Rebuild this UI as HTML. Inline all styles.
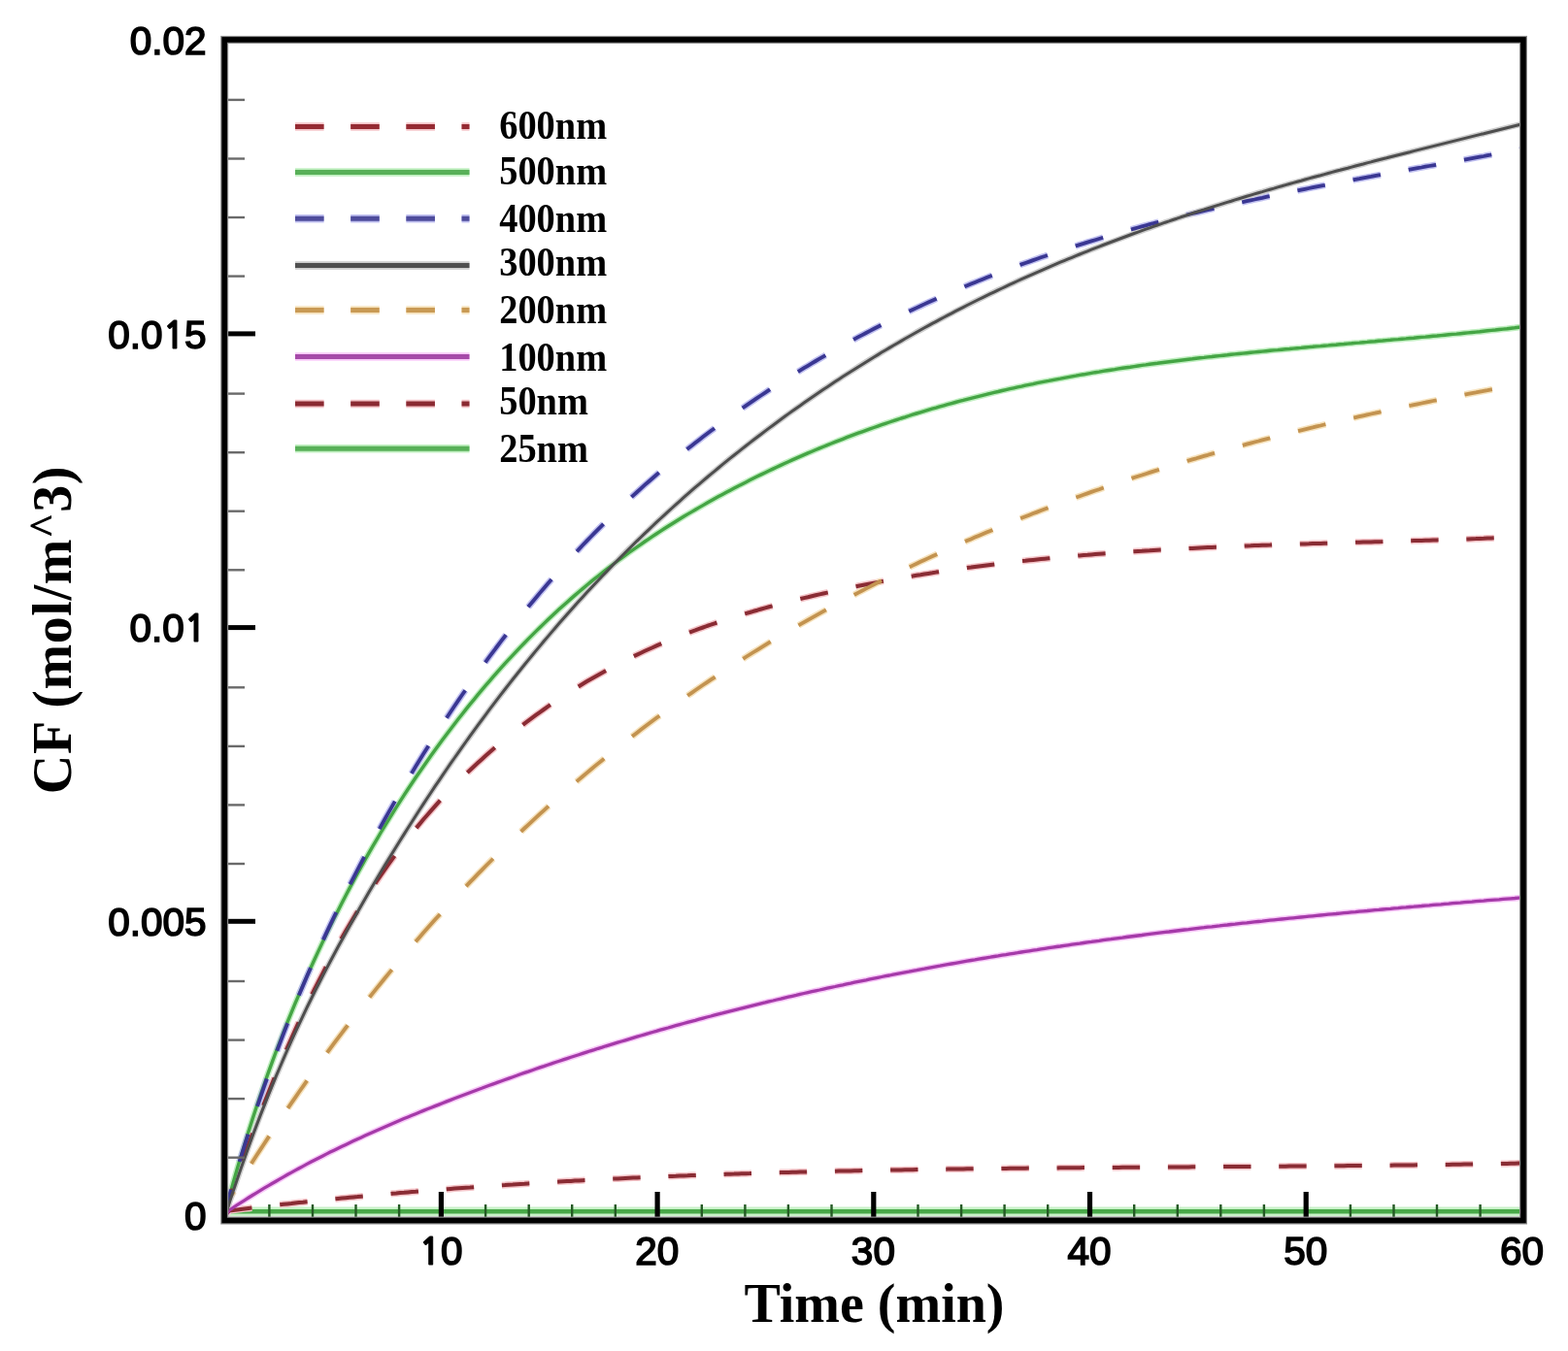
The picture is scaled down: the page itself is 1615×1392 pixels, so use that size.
<!DOCTYPE html>
<html><head><meta charset="utf-8"><title>CF vs Time</title><style>html,body{margin:0;padding:0;background:#fff;}svg{display:block;}</style></head><body>
<div id="w"><svg width="1615" height="1392" viewBox="0 0 1615 1392">
<rect width="1615" height="1392" fill="#fff"/>
<g fill="none" stroke-linejoin="round" stroke-linecap="butt">
<path d="M233,1248.3 L1566,1248.3" stroke="#c8f2c8" stroke-width="9.5"/>
<path d="M233,1248.3 L1566,1248.3" stroke="#48a848" stroke-width="4.4"/>
<path d="M232.1,1252.0 L236.1,1247.4 L240.1,1246.9 L244.1,1246.4 L248.1,1245.9 L252.1,1245.4 L256.1,1244.9 L260.1,1244.5 L264.1,1244.0 L268.1,1243.5 L272.1,1243.1 L276.1,1242.6 L280.1,1242.2 L284.1,1241.7 L288.1,1241.3 L292.1,1240.8 L296.1,1240.4 L300.1,1240.0 L304.1,1239.5 L308.1,1239.1 L312.1,1238.7 L316.1,1238.2 L320.1,1237.8 L324.1,1237.4 L328.1,1237.0 L332.1,1236.6 L336.1,1236.2 L340.1,1235.8 L344.1,1235.4 L348.1,1235.0 L352.1,1234.6 L356.1,1234.2 L360.1,1233.8 L364.1,1233.4 L368.1,1233.1 L372.1,1232.7 L376.1,1232.3 L380.1,1232.0 L384.1,1231.6 L388.1,1231.2 L392.1,1230.9 L396.1,1230.5 L400.1,1230.2 L404.1,1229.8 L408.1,1229.5 L412.1,1229.1 L416.1,1228.8 L420.1,1228.4 L424.1,1228.1 L428.1,1227.8 L432.1,1227.4 L436.1,1227.1 L440.1,1226.8 L444.1,1226.5 L448.1,1226.2 L452.1,1225.9 L456.1,1225.5 L460.1,1225.2 L464.1,1224.9 L468.1,1224.6 L472.1,1224.3 L476.1,1224.0 L480.1,1223.7 L484.1,1223.5 L488.1,1223.2 L492.1,1222.9 L496.1,1222.6 L500.1,1222.3 L504.1,1222.0 L508.1,1221.8 L512.1,1221.5 L516.1,1221.2 L520.1,1221.0 L524.1,1220.7 L528.1,1220.5 L532.1,1220.2 L536.1,1219.9 L540.1,1219.7 L544.1,1219.4 L548.1,1219.2 L552.1,1218.9 L556.1,1218.7 L560.1,1218.5 L564.1,1218.2 L568.1,1218.0 L572.1,1217.8 L576.1,1217.5 L580.1,1217.3 L584.1,1217.1 L588.1,1216.9 L592.1,1216.6 L596.1,1216.4 L600.1,1216.2 L604.1,1216.0 L608.1,1215.8 L612.1,1215.6 L616.1,1215.4 L620.1,1215.2 L624.1,1215.0 L628.1,1214.8 L632.1,1214.6 L636.1,1214.4 L640.1,1214.2 L644.1,1214.0 L648.1,1213.8 L652.1,1213.6 L656.1,1213.5 L660.1,1213.3 L664.1,1213.1 L668.1,1212.9 L672.1,1212.8 L676.1,1212.6 L680.1,1212.4 L684.1,1212.2 L688.1,1212.1 L692.1,1211.9 L696.1,1211.8 L700.1,1211.6 L704.1,1211.4 L708.1,1211.3 L712.1,1211.1 L716.1,1211.0 L720.1,1210.8 L724.1,1210.7 L728.1,1210.5 L732.1,1210.4 L736.1,1210.3 L740.1,1210.1 L744.1,1210.0 L748.1,1209.8 L752.1,1209.7 L756.1,1209.6 L760.1,1209.4 L764.1,1209.3 L768.1,1209.2 L772.1,1209.1 L776.1,1208.9 L780.1,1208.8 L784.1,1208.7 L788.1,1208.6 L792.1,1208.5 L796.1,1208.3 L800.1,1208.2 L804.1,1208.1 L808.1,1208.0 L812.1,1207.9 L816.1,1207.8 L820.1,1207.7 L824.1,1207.6 L828.1,1207.5 L832.1,1207.4 L836.1,1207.3 L840.1,1207.2 L844.1,1207.1 L848.1,1207.0 L852.1,1206.9 L856.1,1206.8 L860.1,1206.7 L864.1,1206.6 L868.1,1206.5 L872.1,1206.4 L876.1,1206.4 L880.1,1206.3 L884.1,1206.2 L888.1,1206.1 L892.1,1206.0 L896.1,1206.0 L900.1,1205.9 L904.1,1205.8 L908.1,1205.7 L912.1,1205.6 L916.1,1205.6 L920.1,1205.5 L924.1,1205.4 L928.1,1205.4 L932.1,1205.3 L936.1,1205.2 L940.1,1205.2 L944.1,1205.1 L948.1,1205.0 L952.1,1205.0 L956.1,1204.9 L960.1,1204.8 L964.1,1204.8 L968.1,1204.7 L972.1,1204.7 L976.1,1204.6 L980.1,1204.6 L984.1,1204.5 L988.1,1204.5 L992.1,1204.4 L996.1,1204.3 L1000.1,1204.3 L1004.1,1204.2 L1008.1,1204.2 L1012.1,1204.1 L1016.1,1204.1 L1020.1,1204.1 L1024.1,1204.0 L1028.1,1204.0 L1032.1,1203.9 L1036.1,1203.9 L1040.1,1203.8 L1044.1,1203.8 L1048.1,1203.7 L1052.1,1203.7 L1056.1,1203.7 L1060.1,1203.6 L1064.1,1203.6 L1068.1,1203.5 L1072.1,1203.5 L1076.1,1203.5 L1080.1,1203.4 L1084.1,1203.4 L1088.1,1203.4 L1092.1,1203.3 L1096.1,1203.3 L1100.1,1203.3 L1104.1,1203.2 L1108.1,1203.2 L1112.1,1203.2 L1116.1,1203.1 L1120.1,1203.1 L1124.1,1203.1 L1128.1,1203.0 L1132.1,1203.0 L1136.1,1203.0 L1140.1,1202.9 L1144.1,1202.9 L1148.1,1202.9 L1152.1,1202.9 L1156.1,1202.8 L1160.1,1202.8 L1164.1,1202.8 L1168.1,1202.7 L1172.1,1202.7 L1176.1,1202.7 L1180.1,1202.7 L1184.1,1202.6 L1188.1,1202.6 L1192.1,1202.6 L1196.1,1202.5 L1200.1,1202.5 L1204.1,1202.5 L1208.1,1202.5 L1212.1,1202.4 L1216.1,1202.4 L1220.1,1202.4 L1224.1,1202.4 L1228.1,1202.3 L1232.1,1202.3 L1236.1,1202.3 L1240.1,1202.3 L1244.1,1202.2 L1248.1,1202.2 L1252.1,1202.2 L1256.1,1202.2 L1260.1,1202.1 L1264.1,1202.1 L1268.1,1202.1 L1272.1,1202.0 L1276.1,1202.0 L1280.1,1202.0 L1284.1,1202.0 L1288.1,1201.9 L1292.1,1201.9 L1296.1,1201.9 L1300.1,1201.9 L1304.1,1201.8 L1308.1,1201.8 L1312.1,1201.8 L1316.1,1201.7 L1320.1,1201.7 L1324.1,1201.7 L1328.1,1201.6 L1332.1,1201.6 L1336.1,1201.6 L1340.1,1201.5 L1344.1,1201.5 L1348.1,1201.5 L1352.1,1201.4 L1356.1,1201.4 L1360.1,1201.4 L1364.1,1201.3 L1368.1,1201.3 L1372.1,1201.3 L1376.1,1201.2 L1380.1,1201.2 L1384.1,1201.2 L1388.1,1201.1 L1392.1,1201.1 L1396.1,1201.0 L1400.1,1201.0 L1404.1,1201.0 L1408.1,1200.9 L1412.1,1200.9 L1416.1,1200.8 L1420.1,1200.8 L1424.1,1200.8 L1428.1,1200.7 L1432.1,1200.7 L1436.1,1200.6 L1440.1,1200.6 L1444.1,1200.5 L1448.1,1200.5 L1452.1,1200.4 L1456.1,1200.4 L1460.1,1200.3 L1464.1,1200.3 L1468.1,1200.2 L1472.1,1200.2 L1476.1,1200.1 L1480.1,1200.0 L1484.1,1200.0 L1488.1,1199.9 L1492.1,1199.9 L1496.1,1199.8 L1500.1,1199.8 L1504.1,1199.7 L1508.1,1199.6 L1512.1,1199.6 L1516.1,1199.5 L1520.1,1199.4 L1524.1,1199.4 L1528.1,1199.3 L1532.1,1199.2 L1536.1,1199.2 L1540.1,1199.1 L1544.1,1199.0 L1548.1,1198.9 L1552.1,1198.9 L1556.1,1198.8 L1560.1,1198.7 L1564.1,1198.6 L1568.0,1198.5" stroke="#f4c4c8" stroke-width="7.0" stroke-dasharray="29.62 28.96 28.57 28.92 28.53 28.89 28.50 28.86 28.48 28.84 28.46 28.82 28.44 28.81 28.43 28.80 28.42 28.79 28.42 28.78 28.41 28.78 28.41 28.78 28.40 28.77 28.40 28.77 28.40 28.77 28.40 28.77 28.40 28.77 28.40 28.77 28.40 28.77 28.40 28.77 28.40 28.77 28.40 28.77 28.40 28.77 22.07 100.00"/>
<path d="M232.1,1252.0 L236.1,1247.0 L240.1,1244.3 L244.1,1241.7 L248.1,1239.1 L252.1,1236.6 L256.1,1234.0 L260.1,1231.5 L264.1,1229.1 L268.1,1226.6 L272.1,1224.2 L276.1,1221.8 L280.1,1219.5 L284.1,1217.2 L288.1,1214.9 L292.1,1212.6 L296.1,1210.3 L300.1,1208.1 L304.1,1205.9 L308.1,1203.7 L312.1,1201.6 L316.1,1199.4 L320.1,1197.3 L324.1,1195.3 L328.1,1193.2 L332.1,1191.2 L336.1,1189.1 L340.1,1187.1 L344.1,1185.2 L348.1,1183.2 L352.1,1181.3 L356.1,1179.4 L360.1,1177.5 L364.1,1175.6 L368.1,1173.7 L372.1,1171.9 L376.1,1170.0 L380.1,1168.2 L384.1,1166.4 L388.1,1164.7 L392.1,1162.9 L396.1,1161.2 L400.1,1159.4 L404.1,1157.7 L408.1,1156.0 L412.1,1154.3 L416.1,1152.6 L420.1,1151.0 L424.1,1149.3 L428.1,1147.7 L432.1,1146.0 L436.1,1144.4 L440.1,1142.8 L444.1,1141.2 L448.1,1139.6 L452.1,1138.1 L456.1,1136.5 L460.1,1134.9 L464.1,1133.4 L468.1,1131.8 L472.1,1130.3 L476.1,1128.8 L480.1,1127.3 L484.1,1125.7 L488.1,1124.2 L492.1,1122.7 L496.1,1121.3 L500.1,1119.8 L504.1,1118.3 L508.1,1116.9 L512.1,1115.4 L516.1,1114.0 L520.1,1112.5 L524.1,1111.1 L528.1,1109.7 L532.1,1108.3 L536.1,1106.8 L540.1,1105.4 L544.1,1104.1 L548.1,1102.7 L552.1,1101.3 L556.1,1099.9 L560.1,1098.6 L564.1,1097.2 L568.1,1095.9 L572.1,1094.5 L576.1,1093.2 L580.1,1091.9 L584.1,1090.6 L588.1,1089.3 L592.1,1088.0 L596.1,1086.7 L600.1,1085.4 L604.1,1084.1 L608.1,1082.8 L612.1,1081.6 L616.1,1080.3 L620.1,1079.1 L624.1,1077.8 L628.1,1076.6 L632.1,1075.4 L636.1,1074.2 L640.1,1073.0 L644.1,1071.8 L648.1,1070.6 L652.1,1069.4 L656.1,1068.2 L660.1,1067.0 L664.1,1065.8 L668.1,1064.7 L672.1,1063.5 L676.1,1062.4 L680.1,1061.2 L684.1,1060.1 L688.1,1059.0 L692.1,1057.8 L696.1,1056.7 L700.1,1055.6 L704.1,1054.5 L708.1,1053.4 L712.1,1052.3 L716.1,1051.3 L720.1,1050.2 L724.1,1049.1 L728.1,1048.0 L732.1,1047.0 L736.1,1045.9 L740.1,1044.9 L744.1,1043.9 L748.1,1042.8 L752.1,1041.8 L756.1,1040.8 L760.1,1039.8 L764.1,1038.8 L768.1,1037.8 L772.1,1036.8 L776.1,1035.8 L780.1,1034.8 L784.1,1033.8 L788.1,1032.9 L792.1,1031.9 L796.1,1031.0 L800.1,1030.0 L804.1,1029.1 L808.1,1028.1 L812.1,1027.2 L816.1,1026.3 L820.1,1025.4 L824.1,1024.4 L828.1,1023.5 L832.1,1022.6 L836.1,1021.7 L840.1,1020.8 L844.1,1020.0 L848.1,1019.1 L852.1,1018.2 L856.1,1017.3 L860.1,1016.5 L864.1,1015.6 L868.1,1014.8 L872.1,1013.9 L876.1,1013.1 L880.1,1012.2 L884.1,1011.4 L888.1,1010.6 L892.1,1009.8 L896.1,1008.9 L900.1,1008.1 L904.1,1007.3 L908.1,1006.5 L912.1,1005.7 L916.1,1005.0 L920.1,1004.2 L924.1,1003.4 L928.1,1002.6 L932.1,1001.8 L936.1,1001.1 L940.1,1000.3 L944.1,999.6 L948.1,998.8 L952.1,998.1 L956.1,997.3 L960.1,996.6 L964.1,995.9 L968.1,995.2 L972.1,994.4 L976.1,993.7 L980.1,993.0 L984.1,992.3 L988.1,991.6 L992.1,990.9 L996.1,990.2 L1000.1,989.5 L1004.1,988.9 L1008.1,988.2 L1012.1,987.5 L1016.1,986.8 L1020.1,986.2 L1024.1,985.5 L1028.1,984.9 L1032.1,984.2 L1036.1,983.6 L1040.1,982.9 L1044.1,982.3 L1048.1,981.7 L1052.1,981.0 L1056.1,980.4 L1060.1,979.8 L1064.1,979.2 L1068.1,978.6 L1072.1,977.9 L1076.1,977.3 L1080.1,976.7 L1084.1,976.1 L1088.1,975.5 L1092.1,975.0 L1096.1,974.4 L1100.1,973.8 L1104.1,973.2 L1108.1,972.6 L1112.1,972.1 L1116.1,971.5 L1120.1,970.9 L1124.1,970.4 L1128.1,969.8 L1132.1,969.3 L1136.1,968.7 L1140.1,968.2 L1144.1,967.7 L1148.1,967.1 L1152.1,966.6 L1156.1,966.1 L1160.1,965.5 L1164.1,965.0 L1168.1,964.5 L1172.1,964.0 L1176.1,963.5 L1180.1,962.9 L1184.1,962.4 L1188.1,961.9 L1192.1,961.4 L1196.1,960.9 L1200.1,960.4 L1204.1,960.0 L1208.1,959.5 L1212.1,959.0 L1216.1,958.5 L1220.1,958.0 L1224.1,957.6 L1228.1,957.1 L1232.1,956.6 L1236.1,956.1 L1240.1,955.7 L1244.1,955.2 L1248.1,954.8 L1252.1,954.3 L1256.1,953.9 L1260.1,953.4 L1264.1,953.0 L1268.1,952.5 L1272.1,952.1 L1276.1,951.6 L1280.1,951.2 L1284.1,950.8 L1288.1,950.3 L1292.1,949.9 L1296.1,949.5 L1300.1,949.1 L1304.1,948.6 L1308.1,948.2 L1312.1,947.8 L1316.1,947.4 L1320.1,947.0 L1324.1,946.6 L1328.1,946.2 L1332.1,945.8 L1336.1,945.4 L1340.1,945.0 L1344.1,944.6 L1348.1,944.2 L1352.1,943.8 L1356.1,943.4 L1360.1,943.0 L1364.1,942.6 L1368.1,942.2 L1372.1,941.8 L1376.1,941.5 L1380.1,941.1 L1384.1,940.7 L1388.1,940.3 L1392.1,939.9 L1396.1,939.6 L1400.1,939.2 L1404.1,938.8 L1408.1,938.5 L1412.1,938.1 L1416.1,937.7 L1420.1,937.4 L1424.1,937.0 L1428.1,936.6 L1432.1,936.3 L1436.1,935.9 L1440.1,935.6 L1444.1,935.2 L1448.1,934.9 L1452.1,934.5 L1456.1,934.2 L1460.1,933.8 L1464.1,933.5 L1468.1,933.1 L1472.1,932.8 L1476.1,932.4 L1480.1,932.1 L1484.1,931.8 L1488.1,931.4 L1492.1,931.1 L1496.1,930.7 L1500.1,930.4 L1504.1,930.1 L1508.1,929.7 L1512.1,929.4 L1516.1,929.1 L1520.1,928.7 L1524.1,928.4 L1528.1,928.1 L1532.1,927.7 L1536.1,927.4 L1540.1,927.1 L1544.1,926.8 L1548.1,926.4 L1552.1,926.1 L1556.1,925.8 L1560.1,925.5 L1564.1,925.1 L1568.0,924.8" stroke="#f8c8f8" stroke-width="6.3"/>
<path d="M232.1,1252.0 L236.1,1233.2 L240.1,1218.9 L244.1,1205.0 L248.1,1191.4 L252.1,1178.2 L256.1,1165.4 L260.1,1152.9 L264.1,1140.7 L268.1,1128.8 L272.1,1117.2 L276.1,1105.9 L280.1,1094.8 L284.1,1084.0 L288.1,1073.5 L292.1,1063.2 L296.1,1053.2 L300.1,1043.3 L304.1,1033.7 L308.1,1024.3 L312.1,1015.0 L316.1,1005.9 L320.1,997.0 L324.1,988.2 L328.1,979.6 L332.1,971.1 L336.1,962.7 L340.1,954.5 L344.1,946.3 L348.1,938.4 L352.1,930.5 L356.1,922.7 L360.1,915.1 L364.1,907.6 L368.1,900.2 L372.1,892.9 L376.1,885.7 L380.1,878.6 L384.1,871.6 L388.1,864.8 L392.1,858.0 L396.1,851.3 L400.1,844.8 L404.1,838.3 L408.1,831.9 L412.1,825.6 L416.1,819.4 L420.1,813.3 L424.1,807.3 L428.1,801.3 L432.1,795.5 L436.1,789.7 L440.1,784.0 L444.1,778.3 L448.1,772.7 L452.1,767.2 L456.1,761.8 L460.1,756.4 L464.1,751.2 L468.1,745.9 L472.1,740.8 L476.1,735.7 L480.1,730.6 L484.1,725.7 L488.1,720.8 L492.1,715.9 L496.1,711.1 L500.1,706.4 L504.1,701.8 L508.1,697.2 L512.1,692.6 L516.1,688.2 L520.1,683.7 L524.1,679.4 L528.1,675.1 L532.1,670.8 L536.1,666.6 L540.1,662.5 L544.1,658.4 L548.1,654.4 L552.1,650.4 L556.1,646.5 L560.1,642.6 L564.1,638.8 L568.1,635.0 L572.1,631.3 L576.1,627.6 L580.1,624.0 L584.1,620.4 L588.1,616.9 L592.1,613.4 L596.1,610.0 L600.1,606.6 L604.1,603.2 L608.1,599.9 L612.1,596.7 L616.1,593.5 L620.1,590.3 L624.1,587.2 L628.1,584.1 L632.1,581.0 L636.1,578.0 L640.1,575.1 L644.1,572.1 L648.1,569.2 L652.1,566.4 L656.1,563.6 L660.1,560.8 L664.1,558.0 L668.1,555.3 L672.1,552.6 L676.1,550.0 L680.1,547.4 L684.1,544.8 L688.1,542.2 L692.1,539.7 L696.1,537.2 L700.1,534.8 L704.1,532.3 L708.1,529.9 L712.1,527.6 L716.1,525.2 L720.1,522.9 L724.1,520.6 L728.1,518.3 L732.1,516.1 L736.1,513.8 L740.1,511.6 L744.1,509.5 L748.1,507.3 L752.1,505.2 L756.1,503.1 L760.1,501.0 L764.1,498.9 L768.1,496.9 L772.1,494.8 L776.1,492.8 L780.1,490.8 L784.1,488.9 L788.1,486.9 L792.1,485.0 L796.1,483.1 L800.1,481.2 L804.1,479.4 L808.1,477.5 L812.1,475.7 L816.1,473.9 L820.1,472.1 L824.1,470.4 L828.1,468.6 L832.1,466.9 L836.1,465.2 L840.1,463.5 L844.1,461.9 L848.1,460.2 L852.1,458.6 L856.1,457.0 L860.1,455.4 L864.1,453.8 L868.1,452.3 L872.1,450.7 L876.1,449.2 L880.1,447.7 L884.1,446.2 L888.1,444.8 L892.1,443.3 L896.1,441.9 L900.1,440.5 L904.1,439.1 L908.1,437.7 L912.1,436.3 L916.1,435.0 L920.1,433.7 L924.1,432.3 L928.1,431.0 L932.1,429.8 L936.1,428.5 L940.1,427.2 L944.1,426.0 L948.1,424.8 L952.1,423.6 L956.1,422.4 L960.1,421.2 L964.1,420.1 L968.1,418.9 L972.1,417.8 L976.1,416.7 L980.1,415.6 L984.1,414.5 L988.1,413.4 L992.1,412.4 L996.1,411.3 L1000.1,410.3 L1004.1,409.3 L1008.1,408.3 L1012.1,407.3 L1016.1,406.3 L1020.1,405.3 L1024.1,404.4 L1028.1,403.5 L1032.1,402.5 L1036.1,401.6 L1040.1,400.7 L1044.1,399.8 L1048.1,398.9 L1052.1,398.1 L1056.1,397.2 L1060.1,396.4 L1064.1,395.6 L1068.1,394.7 L1072.1,393.9 L1076.1,393.1 L1080.1,392.4 L1084.1,391.6 L1088.1,390.8 L1092.1,390.1 L1096.1,389.3 L1100.1,388.6 L1104.1,387.9 L1108.1,387.2 L1112.1,386.4 L1116.1,385.8 L1120.1,385.1 L1124.1,384.4 L1128.1,383.7 L1132.1,383.1 L1136.1,382.4 L1140.1,381.8 L1144.1,381.2 L1148.1,380.6 L1152.1,379.9 L1156.1,379.3 L1160.1,378.7 L1164.1,378.2 L1168.1,377.6 L1172.1,377.0 L1176.1,376.4 L1180.1,375.9 L1184.1,375.3 L1188.1,374.8 L1192.1,374.3 L1196.1,373.7 L1200.1,373.2 L1204.1,372.7 L1208.1,372.2 L1212.1,371.7 L1216.1,371.2 L1220.1,370.7 L1224.1,370.2 L1228.1,369.8 L1232.1,369.3 L1236.1,368.8 L1240.1,368.4 L1244.1,367.9 L1248.1,367.5 L1252.1,367.0 L1256.1,366.6 L1260.1,366.2 L1264.1,365.8 L1268.1,365.3 L1272.1,364.9 L1276.1,364.5 L1280.1,364.1 L1284.1,363.7 L1288.1,363.3 L1292.1,362.9 L1296.1,362.5 L1300.1,362.1 L1304.1,361.7 L1308.1,361.3 L1312.1,360.9 L1316.1,360.6 L1320.1,360.2 L1324.1,359.8 L1328.1,359.5 L1332.1,359.1 L1336.1,358.7 L1340.1,358.4 L1344.1,358.0 L1348.1,357.6 L1352.1,357.3 L1356.1,356.9 L1360.1,356.6 L1364.1,356.2 L1368.1,355.9 L1372.1,355.5 L1376.1,355.2 L1380.1,354.8 L1384.1,354.5 L1388.1,354.1 L1392.1,353.8 L1396.1,353.4 L1400.1,353.1 L1404.1,352.7 L1408.1,352.4 L1412.1,352.0 L1416.1,351.7 L1420.1,351.3 L1424.1,351.0 L1428.1,350.6 L1432.1,350.3 L1436.1,349.9 L1440.1,349.6 L1444.1,349.2 L1448.1,348.9 L1452.1,348.5 L1456.1,348.2 L1460.1,347.8 L1464.1,347.4 L1468.1,347.1 L1472.1,346.7 L1476.1,346.3 L1480.1,346.0 L1484.1,345.6 L1488.1,345.2 L1492.1,344.8 L1496.1,344.4 L1500.1,344.1 L1504.1,343.7 L1508.1,343.3 L1512.1,342.9 L1516.1,342.5 L1520.1,342.1 L1524.1,341.7 L1528.1,341.2 L1532.1,340.8 L1536.1,340.4 L1540.1,340.0 L1544.1,339.5 L1548.1,339.1 L1552.1,338.7 L1556.1,338.2 L1560.1,337.8 L1564.1,337.3 L1568.0,336.9" stroke="#c0efc0" stroke-width="6.4"/>
<path d="M232.1,1252.0 L236.1,1235.2 L240.1,1223.5 L244.1,1212.0 L248.1,1200.7 L252.1,1189.6 L256.1,1178.6 L260.1,1167.9 L264.1,1157.3 L268.1,1146.9 L272.1,1136.7 L276.1,1126.7 L280.1,1116.8 L284.1,1107.1 L288.1,1097.6 L292.1,1088.2 L296.1,1079.0 L300.1,1070.0 L304.1,1061.1 L308.1,1052.4 L312.1,1043.8 L316.1,1035.4 L320.1,1027.1 L324.1,1019.0 L328.1,1011.1 L332.1,1003.3 L336.1,995.6 L340.1,988.1 L344.1,980.7 L348.1,973.4 L352.1,966.3 L356.1,959.3 L360.1,952.5 L364.1,945.7 L368.1,939.1 L372.1,932.7 L376.1,926.3 L380.1,920.1 L384.1,914.0 L388.1,908.0 L392.1,902.1 L396.1,896.3 L400.1,890.7 L404.1,885.1 L408.1,879.7 L412.1,874.3 L416.1,869.1 L420.1,863.9 L424.1,858.9 L428.1,853.9 L432.1,849.1 L436.1,844.3 L440.1,839.7 L444.1,835.1 L448.1,830.6 L452.1,826.1 L456.1,821.8 L460.1,817.5 L464.1,813.3 L468.1,809.2 L472.1,805.2 L476.1,801.2 L480.1,797.3 L484.1,793.5 L488.1,789.7 L492.1,786.0 L496.1,782.4 L500.1,778.8 L504.1,775.2 L508.1,771.8 L512.1,768.3 L516.1,764.9 L520.1,761.6 L524.1,758.3 L528.1,755.1 L532.1,751.9 L536.1,748.8 L540.1,745.7 L544.1,742.7 L548.1,739.7 L552.1,736.7 L556.1,733.8 L560.1,731.0 L564.1,728.1 L568.1,725.4 L572.1,722.6 L576.1,720.0 L580.1,717.3 L584.1,714.7 L588.1,712.2 L592.1,709.7 L596.1,707.2 L600.1,704.7 L604.1,702.3 L608.1,700.0 L612.1,697.7 L616.1,695.4 L620.1,693.2 L624.1,691.0 L628.1,688.8 L632.1,686.7 L636.1,684.6 L640.1,682.5 L644.1,680.5 L648.1,678.5 L652.1,676.5 L656.1,674.6 L660.1,672.7 L664.1,670.8 L668.1,669.0 L672.1,667.2 L676.1,665.4 L680.1,663.7 L684.1,662.0 L688.1,660.3 L692.1,658.7 L696.1,657.1 L700.1,655.5 L704.1,653.9 L708.1,652.4 L712.1,650.8 L716.1,649.4 L720.1,647.9 L724.1,646.5 L728.1,645.0 L732.1,643.7 L736.1,642.3 L740.1,640.9 L744.1,639.6 L748.1,638.3 L752.1,637.1 L756.1,635.8 L760.1,634.6 L764.1,633.3 L768.1,632.1 L772.1,631.0 L776.1,629.8 L780.1,628.7 L784.1,627.5 L788.1,626.4 L792.1,625.3 L796.1,624.3 L800.1,623.2 L804.1,622.1 L808.1,621.1 L812.1,620.1 L816.1,619.1 L820.1,618.1 L824.1,617.1 L828.1,616.1 L832.1,615.2 L836.1,614.2 L840.1,613.3 L844.1,612.4 L848.1,611.5 L852.1,610.6 L856.1,609.7 L860.1,608.8 L864.1,607.9 L868.1,607.1 L872.1,606.2 L876.1,605.4 L880.1,604.6 L884.1,603.8 L888.1,603.0 L892.1,602.2 L896.1,601.4 L900.1,600.6 L904.1,599.9 L908.1,599.1 L912.1,598.4 L916.1,597.7 L920.1,596.9 L924.1,596.2 L928.1,595.5 L932.1,594.8 L936.1,594.1 L940.1,593.5 L944.1,592.8 L948.1,592.2 L952.1,591.5 L956.1,590.9 L960.1,590.3 L964.1,589.6 L968.1,589.0 L972.1,588.4 L976.1,587.8 L980.1,587.3 L984.1,586.7 L988.1,586.1 L992.1,585.6 L996.1,585.0 L1000.1,584.5 L1004.1,583.9 L1008.1,583.4 L1012.1,582.9 L1016.1,582.4 L1020.1,581.9 L1024.1,581.4 L1028.1,580.9 L1032.1,580.5 L1036.1,580.0 L1040.1,579.5 L1044.1,579.1 L1048.1,578.6 L1052.1,578.2 L1056.1,577.8 L1060.1,577.3 L1064.1,576.9 L1068.1,576.5 L1072.1,576.1 L1076.1,575.7 L1080.1,575.3 L1084.1,574.9 L1088.1,574.6 L1092.1,574.2 L1096.1,573.8 L1100.1,573.5 L1104.1,573.1 L1108.1,572.8 L1112.1,572.4 L1116.1,572.1 L1120.1,571.8 L1124.1,571.4 L1128.1,571.1 L1132.1,570.8 L1136.1,570.5 L1140.1,570.2 L1144.1,569.9 L1148.1,569.6 L1152.1,569.4 L1156.1,569.1 L1160.1,568.8 L1164.1,568.5 L1168.1,568.3 L1172.1,568.0 L1176.1,567.8 L1180.1,567.5 L1184.1,567.3 L1188.1,567.0 L1192.1,566.8 L1196.1,566.6 L1200.1,566.3 L1204.1,566.1 L1208.1,565.9 L1212.1,565.7 L1216.1,565.5 L1220.1,565.3 L1224.1,565.1 L1228.1,564.9 L1232.1,564.7 L1236.1,564.5 L1240.1,564.3 L1244.1,564.1 L1248.1,563.9 L1252.1,563.7 L1256.1,563.6 L1260.1,563.4 L1264.1,563.2 L1268.1,563.1 L1272.1,562.9 L1276.1,562.7 L1280.1,562.6 L1284.1,562.4 L1288.1,562.3 L1292.1,562.1 L1296.1,562.0 L1300.1,561.8 L1304.1,561.7 L1308.1,561.6 L1312.1,561.4 L1316.1,561.3 L1320.1,561.2 L1324.1,561.0 L1328.1,560.9 L1332.1,560.8 L1336.1,560.6 L1340.1,560.5 L1344.1,560.4 L1348.1,560.3 L1352.1,560.1 L1356.1,560.0 L1360.1,559.9 L1364.1,559.8 L1368.1,559.7 L1372.1,559.5 L1376.1,559.4 L1380.1,559.3 L1384.1,559.2 L1388.1,559.1 L1392.1,559.0 L1396.1,558.8 L1400.1,558.7 L1404.1,558.6 L1408.1,558.5 L1412.1,558.4 L1416.1,558.3 L1420.1,558.2 L1424.1,558.1 L1428.1,557.9 L1432.1,557.8 L1436.1,557.7 L1440.1,557.6 L1444.1,557.5 L1448.1,557.4 L1452.1,557.3 L1456.1,557.1 L1460.1,557.0 L1464.1,556.9 L1468.1,556.8 L1472.1,556.7 L1476.1,556.5 L1480.1,556.4 L1484.1,556.3 L1488.1,556.2 L1492.1,556.0 L1496.1,555.9 L1500.1,555.8 L1504.1,555.6 L1508.1,555.5 L1512.1,555.4 L1516.1,555.2 L1520.1,555.1 L1524.1,554.9 L1528.1,554.8 L1532.1,554.6 L1536.1,554.5 L1540.1,554.3 L1544.1,554.2 L1548.1,554.0 L1552.1,553.9 L1556.1,553.7 L1560.1,553.5 L1564.1,553.4 L1568.0,553.2" stroke="#f4c4c8" stroke-width="7.0" stroke-dasharray="28.12 30.50 30.25 30.82 30.62 31.26 31.13 31.87 31.86 32.77 32.95 34.16 34.69 36.41 37.59 39.98 38.37 37.11 35.17 34.35 32.84 32.36 31.21 31.02 30.15 30.18 29.51 29.69 29.16 29.42 28.93 29.21 28.76 29.07 28.63 28.96 28.55 28.89 28.49 28.84 28.45 28.81 28.43 28.79 28.42 28.79 28.41 28.78 28.41 28.78 28.41 28.79 28.42 28.79 0.45 100.00"/>
<path d="M232.1,1252.0 L236.1,1235.5 L240.1,1229.0 L244.1,1222.5 L248.1,1216.1 L252.1,1209.7 L256.1,1203.4 L260.1,1197.1 L264.1,1190.8 L268.1,1184.6 L272.1,1178.5 L276.1,1172.4 L280.1,1166.3 L284.1,1160.3 L288.1,1154.3 L292.1,1148.3 L296.1,1142.4 L300.1,1136.6 L304.1,1130.8 L308.1,1125.0 L312.1,1119.3 L316.1,1113.6 L320.1,1108.0 L324.1,1102.4 L328.1,1096.8 L332.1,1091.3 L336.1,1085.8 L340.1,1080.3 L344.1,1074.9 L348.1,1069.6 L352.1,1064.3 L356.1,1059.0 L360.1,1053.7 L364.1,1048.5 L368.1,1043.4 L372.1,1038.2 L376.1,1033.1 L380.1,1028.1 L384.1,1023.1 L388.1,1018.1 L392.1,1013.2 L396.1,1008.2 L400.1,1003.4 L404.1,998.5 L408.1,993.7 L412.1,989.0 L416.1,984.2 L420.1,979.6 L424.1,974.9 L428.1,970.3 L432.1,965.7 L436.1,961.1 L440.1,956.6 L444.1,952.1 L448.1,947.6 L452.1,943.2 L456.1,938.8 L460.1,934.5 L464.1,930.1 L468.1,925.8 L472.1,921.6 L476.1,917.3 L480.1,913.1 L484.1,908.9 L488.1,904.8 L492.1,900.7 L496.1,896.6 L500.1,892.5 L504.1,888.5 L508.1,884.5 L512.1,880.6 L516.1,876.6 L520.1,872.7 L524.1,868.8 L528.1,865.0 L532.1,861.1 L536.1,857.3 L540.1,853.5 L544.1,849.8 L548.1,846.1 L552.1,842.4 L556.1,838.7 L560.1,835.1 L564.1,831.4 L568.1,827.8 L572.1,824.3 L576.1,820.7 L580.1,817.2 L584.1,813.7 L588.1,810.2 L592.1,806.8 L596.1,803.4 L600.1,800.0 L604.1,796.6 L608.1,793.3 L612.1,789.9 L616.1,786.6 L620.1,783.4 L624.1,780.1 L628.1,776.9 L632.1,773.7 L636.1,770.5 L640.1,767.3 L644.1,764.2 L648.1,761.1 L652.1,758.0 L656.1,754.9 L660.1,751.8 L664.1,748.8 L668.1,745.8 L672.1,742.8 L676.1,739.8 L680.1,736.9 L684.1,734.0 L688.1,731.1 L692.1,728.2 L696.1,725.3 L700.1,722.5 L704.1,719.6 L708.1,716.8 L712.1,714.1 L716.1,711.3 L720.1,708.5 L724.1,705.8 L728.1,703.1 L732.1,700.4 L736.1,697.8 L740.1,695.1 L744.1,692.5 L748.1,689.9 L752.1,687.3 L756.1,684.7 L760.1,682.1 L764.1,679.6 L768.1,677.0 L772.1,674.5 L776.1,672.0 L780.1,669.6 L784.1,667.1 L788.1,664.7 L792.1,662.2 L796.1,659.8 L800.1,657.4 L804.1,655.1 L808.1,652.7 L812.1,650.3 L816.1,648.0 L820.1,645.7 L824.1,643.4 L828.1,641.1 L832.1,638.8 L836.1,636.6 L840.1,634.3 L844.1,632.1 L848.1,629.9 L852.1,627.7 L856.1,625.5 L860.1,623.3 L864.1,621.2 L868.1,619.0 L872.1,616.9 L876.1,614.8 L880.1,612.7 L884.1,610.6 L888.1,608.5 L892.1,606.4 L896.1,604.4 L900.1,602.3 L904.1,600.3 L908.1,598.3 L912.1,596.3 L916.1,594.3 L920.1,592.3 L924.1,590.4 L928.1,588.4 L932.1,586.5 L936.1,584.5 L940.1,582.6 L944.1,580.7 L948.1,578.8 L952.1,577.0 L956.1,575.1 L960.1,573.2 L964.1,571.4 L968.1,569.6 L972.1,567.8 L976.1,566.0 L980.1,564.2 L984.1,562.4 L988.1,560.6 L992.1,558.9 L996.1,557.1 L1000.1,555.4 L1004.1,553.6 L1008.1,551.9 L1012.1,550.2 L1016.1,548.5 L1020.1,546.9 L1024.1,545.2 L1028.1,543.5 L1032.1,541.9 L1036.1,540.3 L1040.1,538.6 L1044.1,537.0 L1048.1,535.4 L1052.1,533.8 L1056.1,532.3 L1060.1,530.7 L1064.1,529.1 L1068.1,527.6 L1072.1,526.0 L1076.1,524.5 L1080.1,523.0 L1084.1,521.5 L1088.1,520.0 L1092.1,518.5 L1096.1,517.0 L1100.1,515.5 L1104.1,514.1 L1108.1,512.6 L1112.1,511.2 L1116.1,509.8 L1120.1,508.4 L1124.1,506.9 L1128.1,505.5 L1132.1,504.2 L1136.1,502.8 L1140.1,501.4 L1144.1,500.0 L1148.1,498.7 L1152.1,497.3 L1156.1,496.0 L1160.1,494.7 L1164.1,493.4 L1168.1,492.0 L1172.1,490.7 L1176.1,489.5 L1180.1,488.2 L1184.1,486.9 L1188.1,485.6 L1192.1,484.4 L1196.1,483.1 L1200.1,481.9 L1204.1,480.7 L1208.1,479.4 L1212.1,478.2 L1216.1,477.0 L1220.1,475.8 L1224.1,474.6 L1228.1,473.4 L1232.1,472.3 L1236.1,471.1 L1240.1,469.9 L1244.1,468.8 L1248.1,467.6 L1252.1,466.5 L1256.1,465.4 L1260.1,464.3 L1264.1,463.1 L1268.1,462.0 L1272.1,460.9 L1276.1,459.8 L1280.1,458.8 L1284.1,457.7 L1288.1,456.6 L1292.1,455.5 L1296.1,454.5 L1300.1,453.4 L1304.1,452.4 L1308.1,451.4 L1312.1,450.3 L1316.1,449.3 L1320.1,448.3 L1324.1,447.3 L1328.1,446.3 L1332.1,445.3 L1336.1,444.3 L1340.1,443.3 L1344.1,442.3 L1348.1,441.3 L1352.1,440.4 L1356.1,439.4 L1360.1,438.5 L1364.1,437.5 L1368.1,436.6 L1372.1,435.6 L1376.1,434.7 L1380.1,433.8 L1384.1,432.8 L1388.1,431.9 L1392.1,431.0 L1396.1,430.1 L1400.1,429.2 L1404.1,428.3 L1408.1,427.4 L1412.1,426.5 L1416.1,425.7 L1420.1,424.8 L1424.1,423.9 L1428.1,423.1 L1432.1,422.2 L1436.1,421.3 L1440.1,420.5 L1444.1,419.6 L1448.1,418.8 L1452.1,418.0 L1456.1,417.1 L1460.1,416.3 L1464.1,415.5 L1468.1,414.7 L1472.1,413.8 L1476.1,413.0 L1480.1,412.2 L1484.1,411.4 L1488.1,410.6 L1492.1,409.8 L1496.1,409.0 L1500.1,408.3 L1504.1,407.5 L1508.1,406.7 L1512.1,405.9 L1516.1,405.1 L1520.1,404.4 L1524.1,403.6 L1528.1,402.8 L1532.1,402.1 L1536.1,401.3 L1540.1,400.6 L1544.1,399.8 L1548.1,399.1 L1552.1,398.3 L1556.1,397.6 L1560.1,396.8 L1564.1,396.1 L1568.0,395.4" stroke="#f6e2bc" stroke-width="6.8" stroke-dasharray="26.04 33.95 33.83 34.62 34.56 35.45 35.47 36.46 36.59 37.73 37.99 39.32 39.74 40.11 38.66 38.28 36.99 36.72 35.56 35.39 34.37 34.29 33.38 33.39 32.58 32.66 31.93 32.05 31.36 31.52 30.88 31.06 30.46 30.67 30.11 30.35 29.82 30.08 29.57 29.85 29.38 29.67 29.22 29.53 29.09 29.42 28.99 29.33 28.92 29.26 2.34 100.00"/>
<path d="M232.1,1252.0 L236.1,1232.4 L240.1,1218.8 L244.1,1205.4 L248.1,1192.4 L252.1,1179.6 L256.1,1167.1 L260.1,1154.8 L264.1,1142.7 L268.1,1130.9 L272.1,1119.4 L276.1,1108.1 L280.1,1097.0 L284.1,1086.1 L288.1,1075.4 L292.1,1064.9 L296.1,1054.6 L300.1,1044.6 L304.1,1034.7 L308.1,1024.9 L312.1,1015.4 L316.1,1006.0 L320.1,996.8 L324.1,987.7 L328.1,978.8 L332.1,970.1 L336.1,961.4 L340.1,952.9 L344.1,944.5 L348.1,936.3 L352.1,928.1 L356.1,920.1 L360.1,912.1 L364.1,904.3 L368.1,896.5 L372.1,888.8 L376.1,881.2 L380.1,873.7 L384.1,866.3 L388.1,858.9 L392.1,851.7 L396.1,844.5 L400.1,837.4 L404.1,830.4 L408.1,823.4 L412.1,816.5 L416.1,809.7 L420.1,803.0 L424.1,796.4 L428.1,789.8 L432.1,783.2 L436.1,776.8 L440.1,770.4 L444.1,764.1 L448.1,757.9 L452.1,751.7 L456.1,745.5 L460.1,739.5 L464.1,733.5 L468.1,727.5 L472.1,721.7 L476.1,715.8 L480.1,710.1 L484.1,704.4 L488.1,698.7 L492.1,693.1 L496.1,687.6 L500.1,682.1 L504.1,676.7 L508.1,671.3 L512.1,666.0 L516.1,660.7 L520.1,655.5 L524.1,650.3 L528.1,645.2 L532.1,640.2 L536.1,635.2 L540.1,630.2 L544.1,625.3 L548.1,620.5 L552.1,615.7 L556.1,610.9 L560.1,606.2 L564.1,601.6 L568.1,597.0 L572.1,592.4 L576.1,587.9 L580.1,583.5 L584.1,579.0 L588.1,574.7 L592.1,570.3 L596.1,566.1 L600.1,561.8 L604.1,557.6 L608.1,553.5 L612.1,549.4 L616.1,545.3 L620.1,541.3 L624.1,537.3 L628.1,533.4 L632.1,529.5 L636.1,525.6 L640.1,521.8 L644.1,518.0 L648.1,514.3 L652.1,510.6 L656.1,507.0 L660.1,503.3 L664.1,499.7 L668.1,496.2 L672.1,492.7 L676.1,489.2 L680.1,485.8 L684.1,482.4 L688.1,479.0 L692.1,475.7 L696.1,472.4 L700.1,469.1 L704.1,465.8 L708.1,462.6 L712.1,459.5 L716.1,456.3 L720.1,453.2 L724.1,450.1 L728.1,447.1 L732.1,444.1 L736.1,441.1 L740.1,438.1 L744.1,435.2 L748.1,432.2 L752.1,429.4 L756.1,426.5 L760.1,423.7 L764.1,420.9 L768.1,418.1 L772.1,415.4 L776.1,412.6 L780.1,409.9 L784.1,407.2 L788.1,404.6 L792.1,401.9 L796.1,399.3 L800.1,396.7 L804.1,394.2 L808.1,391.6 L812.1,389.1 L816.1,386.6 L820.1,384.1 L824.1,381.7 L828.1,379.2 L832.1,376.8 L836.1,374.4 L840.1,372.0 L844.1,369.7 L848.1,367.3 L852.1,365.0 L856.1,362.7 L860.1,360.5 L864.1,358.2 L868.1,356.0 L872.1,353.8 L876.1,351.6 L880.1,349.4 L884.1,347.2 L888.1,345.1 L892.1,343.0 L896.1,340.9 L900.1,338.8 L904.1,336.7 L908.1,334.7 L912.1,332.7 L916.1,330.7 L920.1,328.7 L924.1,326.7 L928.1,324.7 L932.1,322.8 L936.1,320.9 L940.1,319.0 L944.1,317.1 L948.1,315.3 L952.1,313.4 L956.1,311.6 L960.1,309.8 L964.1,308.0 L968.1,306.2 L972.1,304.4 L976.1,302.7 L980.1,300.9 L984.1,299.2 L988.1,297.5 L992.1,295.9 L996.1,294.2 L1000.1,292.5 L1004.1,290.9 L1008.1,289.3 L1012.1,287.7 L1016.1,286.1 L1020.1,284.5 L1024.1,282.9 L1028.1,281.4 L1032.1,279.9 L1036.1,278.4 L1040.1,276.9 L1044.1,275.4 L1048.1,273.9 L1052.1,272.4 L1056.1,271.0 L1060.1,269.6 L1064.1,268.1 L1068.1,266.7 L1072.1,265.3 L1076.1,264.0 L1080.1,262.6 L1084.1,261.2 L1088.1,259.9 L1092.1,258.6 L1096.1,257.3 L1100.1,256.0 L1104.1,254.7 L1108.1,253.4 L1112.1,252.1 L1116.1,250.9 L1120.1,249.6 L1124.1,248.4 L1128.1,247.2 L1132.1,246.0 L1136.1,244.8 L1140.1,243.6 L1144.1,242.4 L1148.1,241.2 L1152.1,240.1 L1156.1,238.9 L1160.1,237.8 L1164.1,236.7 L1168.1,235.6 L1172.1,234.5 L1176.1,233.4 L1180.1,232.3 L1184.1,231.2 L1188.1,230.2 L1192.1,229.1 L1196.1,228.1 L1200.1,227.0 L1204.1,226.0 L1208.1,225.0 L1212.1,224.0 L1216.1,223.0 L1220.1,222.0 L1224.1,221.0 L1228.1,220.0 L1232.1,219.1 L1236.1,218.1 L1240.1,217.2 L1244.1,216.2 L1248.1,215.3 L1252.1,214.4 L1256.1,213.4 L1260.1,212.5 L1264.1,211.6 L1268.1,210.7 L1272.1,209.8 L1276.1,208.9 L1280.1,208.1 L1284.1,207.2 L1288.1,206.3 L1292.1,205.5 L1296.1,204.6 L1300.1,203.8 L1304.1,202.9 L1308.1,202.1 L1312.1,201.2 L1316.1,200.4 L1320.1,199.6 L1324.1,198.8 L1328.1,198.0 L1332.1,197.2 L1336.1,196.4 L1340.1,195.6 L1344.1,194.8 L1348.1,194.0 L1352.1,193.2 L1356.1,192.4 L1360.1,191.6 L1364.1,190.9 L1368.1,190.1 L1372.1,189.3 L1376.1,188.6 L1380.1,187.8 L1384.1,187.1 L1388.1,186.3 L1392.1,185.6 L1396.1,184.8 L1400.1,184.1 L1404.1,183.3 L1408.1,182.6 L1412.1,181.9 L1416.1,181.1 L1420.1,180.4 L1424.1,179.7 L1428.1,178.9 L1432.1,178.2 L1436.1,177.5 L1440.1,176.8 L1444.1,176.1 L1448.1,175.3 L1452.1,174.6 L1456.1,173.9 L1460.1,173.2 L1464.1,172.5 L1468.1,171.7 L1472.1,171.0 L1476.1,170.3 L1480.1,169.6 L1484.1,168.9 L1488.1,168.2 L1492.1,167.4 L1496.1,166.7 L1500.1,166.0 L1504.1,165.3 L1508.1,164.6 L1512.1,163.8 L1516.1,163.1 L1520.1,162.4 L1524.1,161.7 L1528.1,161.0 L1532.1,160.2 L1536.1,159.5 L1540.1,158.8 L1544.1,158.0 L1548.1,157.3 L1552.1,156.6 L1556.1,155.8 L1560.1,155.1 L1564.1,154.3 L1568.0,153.6" stroke="#c0c0f0" stroke-width="6.8" stroke-dasharray="26.85 30.04 29.77 30.29 30.05 30.61 30.41 31.03 30.87 31.54 31.41 32.11 31.98 32.70 32.61 33.40 33.38 34.27 34.33 35.35 35.55 36.78 37.21 38.78 39.53 39.87 38.04 37.36 35.87 35.46 34.27 34.08 33.07 32.98 32.09 32.07 31.28 31.34 30.63 30.75 30.11 30.29 29.72 29.94 29.42 29.68 29.20 29.49 29.04 29.36 28.94 29.28 28.88 29.24 28.85 29.23 28.86 29.25 2.95 100.00"/>
<path d="M232.1,1252.0 L236.1,1239.8 L240.1,1227.6 L244.1,1215.7 L248.1,1204.1 L252.1,1192.7 L256.1,1181.5 L260.1,1170.6 L264.1,1159.9 L268.1,1149.4 L272.1,1139.1 L276.1,1129.0 L280.1,1119.1 L284.1,1109.4 L288.1,1100.0 L292.1,1090.6 L296.1,1081.5 L300.1,1072.5 L304.1,1063.7 L308.1,1055.1 L312.1,1046.6 L316.1,1038.2 L320.1,1030.0 L324.1,1021.9 L328.1,1014.0 L332.1,1006.1 L336.1,998.4 L340.1,990.8 L344.1,983.3 L348.1,975.8 L352.1,968.5 L356.1,961.2 L360.1,954.1 L364.1,946.9 L368.1,939.9 L372.1,932.9 L376.1,926.0 L380.1,919.1 L384.1,912.3 L388.1,905.5 L392.1,898.8 L396.1,892.1 L400.1,885.5 L404.1,879.0 L408.1,872.5 L412.1,866.0 L416.1,859.6 L420.1,853.3 L424.1,847.0 L428.1,840.7 L432.1,834.5 L436.1,828.4 L440.1,822.3 L444.1,816.2 L448.1,810.2 L452.1,804.3 L456.1,798.4 L460.1,792.5 L464.1,786.7 L468.1,781.0 L472.1,775.3 L476.1,769.6 L480.1,764.0 L484.1,758.4 L488.1,752.9 L492.1,747.4 L496.1,742.0 L500.1,736.6 L504.1,731.2 L508.1,725.9 L512.1,720.7 L516.1,715.4 L520.1,710.3 L524.1,705.1 L528.1,700.0 L532.1,695.0 L536.1,690.0 L540.1,685.0 L544.1,680.1 L548.1,675.2 L552.1,670.4 L556.1,665.6 L560.1,660.8 L564.1,656.1 L568.1,651.4 L572.1,646.7 L576.1,642.1 L580.1,637.5 L584.1,633.0 L588.1,628.5 L592.1,624.0 L596.1,619.6 L600.1,615.2 L604.1,610.8 L608.1,606.5 L612.1,602.2 L616.1,598.0 L620.1,593.8 L624.1,589.6 L628.1,585.4 L632.1,581.3 L636.1,577.3 L640.1,573.2 L644.1,569.2 L648.1,565.2 L652.1,561.3 L656.1,557.3 L660.1,553.5 L664.1,549.6 L668.1,545.8 L672.1,542.0 L676.1,538.2 L680.1,534.5 L684.1,530.8 L688.1,527.1 L692.1,523.5 L696.1,519.9 L700.1,516.3 L704.1,512.7 L708.1,509.2 L712.1,505.7 L716.1,502.2 L720.1,498.8 L724.1,495.4 L728.1,492.0 L732.1,488.6 L736.1,485.3 L740.1,482.0 L744.1,478.7 L748.1,475.4 L752.1,472.2 L756.1,469.0 L760.1,465.8 L764.1,462.6 L768.1,459.5 L772.1,456.4 L776.1,453.3 L780.1,450.2 L784.1,447.2 L788.1,444.1 L792.1,441.1 L796.1,438.2 L800.1,435.2 L804.1,432.3 L808.1,429.3 L812.1,426.4 L816.1,423.6 L820.1,420.7 L824.1,417.9 L828.1,415.1 L832.1,412.3 L836.1,409.5 L840.1,406.8 L844.1,404.0 L848.1,401.3 L852.1,398.7 L856.1,396.0 L860.1,393.3 L864.1,390.7 L868.1,388.1 L872.1,385.5 L876.1,383.0 L880.1,380.4 L884.1,377.9 L888.1,375.4 L892.1,372.9 L896.1,370.4 L900.1,368.0 L904.1,365.6 L908.1,363.1 L912.1,360.7 L916.1,358.4 L920.1,356.0 L924.1,353.7 L928.1,351.4 L932.1,349.0 L936.1,346.8 L940.1,344.5 L944.1,342.2 L948.1,340.0 L952.1,337.8 L956.1,335.6 L960.1,333.4 L964.1,331.3 L968.1,329.1 L972.1,327.0 L976.1,324.9 L980.1,322.8 L984.1,320.7 L988.1,318.6 L992.1,316.6 L996.1,314.5 L1000.1,312.5 L1004.1,310.5 L1008.1,308.5 L1012.1,306.6 L1016.1,304.6 L1020.1,302.7 L1024.1,300.8 L1028.1,298.8 L1032.1,297.0 L1036.1,295.1 L1040.1,293.2 L1044.1,291.4 L1048.1,289.5 L1052.1,287.7 L1056.1,285.9 L1060.1,284.1 L1064.1,282.3 L1068.1,280.6 L1072.1,278.8 L1076.1,277.1 L1080.1,275.3 L1084.1,273.6 L1088.1,271.9 L1092.1,270.2 L1096.1,268.6 L1100.1,266.9 L1104.1,265.3 L1108.1,263.6 L1112.1,262.0 L1116.1,260.4 L1120.1,258.8 L1124.1,257.2 L1128.1,255.6 L1132.1,254.1 L1136.1,252.5 L1140.1,251.0 L1144.1,249.5 L1148.1,248.0 L1152.1,246.5 L1156.1,245.0 L1160.1,243.5 L1164.1,242.0 L1168.1,240.5 L1172.1,239.1 L1176.1,237.7 L1180.1,236.2 L1184.1,234.8 L1188.1,233.4 L1192.1,232.0 L1196.1,230.6 L1200.1,229.2 L1204.1,227.9 L1208.1,226.5 L1212.1,225.2 L1216.1,223.8 L1220.1,222.5 L1224.1,221.2 L1228.1,219.8 L1232.1,218.5 L1236.1,217.2 L1240.1,216.0 L1244.1,214.7 L1248.1,213.4 L1252.1,212.1 L1256.1,210.9 L1260.1,209.6 L1264.1,208.4 L1268.1,207.2 L1272.1,205.9 L1276.1,204.7 L1280.1,203.5 L1284.1,202.3 L1288.1,201.1 L1292.1,199.9 L1296.1,198.7 L1300.1,197.6 L1304.1,196.4 L1308.1,195.2 L1312.1,194.1 L1316.1,192.9 L1320.1,191.8 L1324.1,190.6 L1328.1,189.5 L1332.1,188.4 L1336.1,187.3 L1340.1,186.2 L1344.1,185.0 L1348.1,183.9 L1352.1,182.8 L1356.1,181.7 L1360.1,180.7 L1364.1,179.6 L1368.1,178.5 L1372.1,177.4 L1376.1,176.3 L1380.1,175.3 L1384.1,174.2 L1388.1,173.2 L1392.1,172.1 L1396.1,171.0 L1400.1,170.0 L1404.1,169.0 L1408.1,167.9 L1412.1,166.9 L1416.1,165.8 L1420.1,164.8 L1424.1,163.8 L1428.1,162.8 L1432.1,161.7 L1436.1,160.7 L1440.1,159.7 L1444.1,158.7 L1448.1,157.7 L1452.1,156.7 L1456.1,155.6 L1460.1,154.6 L1464.1,153.6 L1468.1,152.6 L1472.1,151.6 L1476.1,150.6 L1480.1,149.6 L1484.1,148.6 L1488.1,147.6 L1492.1,146.6 L1496.1,145.6 L1500.1,144.6 L1504.1,143.6 L1508.1,142.6 L1512.1,141.6 L1516.1,140.6 L1520.1,139.6 L1524.1,138.6 L1528.1,137.7 L1532.1,136.7 L1536.1,135.7 L1540.1,134.7 L1544.1,133.7 L1548.1,132.7 L1552.1,131.7 L1556.1,130.7 L1560.1,129.7 L1564.1,128.7 L1568.0,127.7" stroke="#cdcdcd" stroke-width="6.0"/>
<path d="M232.1,1252.0 L236.1,1247.4 L240.1,1246.9 L244.1,1246.4 L248.1,1245.9 L252.1,1245.4 L256.1,1244.9 L260.1,1244.5 L264.1,1244.0 L268.1,1243.5 L272.1,1243.1 L276.1,1242.6 L280.1,1242.2 L284.1,1241.7 L288.1,1241.3 L292.1,1240.8 L296.1,1240.4 L300.1,1240.0 L304.1,1239.5 L308.1,1239.1 L312.1,1238.7 L316.1,1238.2 L320.1,1237.8 L324.1,1237.4 L328.1,1237.0 L332.1,1236.6 L336.1,1236.2 L340.1,1235.8 L344.1,1235.4 L348.1,1235.0 L352.1,1234.6 L356.1,1234.2 L360.1,1233.8 L364.1,1233.4 L368.1,1233.1 L372.1,1232.7 L376.1,1232.3 L380.1,1232.0 L384.1,1231.6 L388.1,1231.2 L392.1,1230.9 L396.1,1230.5 L400.1,1230.2 L404.1,1229.8 L408.1,1229.5 L412.1,1229.1 L416.1,1228.8 L420.1,1228.4 L424.1,1228.1 L428.1,1227.8 L432.1,1227.4 L436.1,1227.1 L440.1,1226.8 L444.1,1226.5 L448.1,1226.2 L452.1,1225.9 L456.1,1225.5 L460.1,1225.2 L464.1,1224.9 L468.1,1224.6 L472.1,1224.3 L476.1,1224.0 L480.1,1223.7 L484.1,1223.5 L488.1,1223.2 L492.1,1222.9 L496.1,1222.6 L500.1,1222.3 L504.1,1222.0 L508.1,1221.8 L512.1,1221.5 L516.1,1221.2 L520.1,1221.0 L524.1,1220.7 L528.1,1220.5 L532.1,1220.2 L536.1,1219.9 L540.1,1219.7 L544.1,1219.4 L548.1,1219.2 L552.1,1218.9 L556.1,1218.7 L560.1,1218.5 L564.1,1218.2 L568.1,1218.0 L572.1,1217.8 L576.1,1217.5 L580.1,1217.3 L584.1,1217.1 L588.1,1216.9 L592.1,1216.6 L596.1,1216.4 L600.1,1216.2 L604.1,1216.0 L608.1,1215.8 L612.1,1215.6 L616.1,1215.4 L620.1,1215.2 L624.1,1215.0 L628.1,1214.8 L632.1,1214.6 L636.1,1214.4 L640.1,1214.2 L644.1,1214.0 L648.1,1213.8 L652.1,1213.6 L656.1,1213.5 L660.1,1213.3 L664.1,1213.1 L668.1,1212.9 L672.1,1212.8 L676.1,1212.6 L680.1,1212.4 L684.1,1212.2 L688.1,1212.1 L692.1,1211.9 L696.1,1211.8 L700.1,1211.6 L704.1,1211.4 L708.1,1211.3 L712.1,1211.1 L716.1,1211.0 L720.1,1210.8 L724.1,1210.7 L728.1,1210.5 L732.1,1210.4 L736.1,1210.3 L740.1,1210.1 L744.1,1210.0 L748.1,1209.8 L752.1,1209.7 L756.1,1209.6 L760.1,1209.4 L764.1,1209.3 L768.1,1209.2 L772.1,1209.1 L776.1,1208.9 L780.1,1208.8 L784.1,1208.7 L788.1,1208.6 L792.1,1208.5 L796.1,1208.3 L800.1,1208.2 L804.1,1208.1 L808.1,1208.0 L812.1,1207.9 L816.1,1207.8 L820.1,1207.7 L824.1,1207.6 L828.1,1207.5 L832.1,1207.4 L836.1,1207.3 L840.1,1207.2 L844.1,1207.1 L848.1,1207.0 L852.1,1206.9 L856.1,1206.8 L860.1,1206.7 L864.1,1206.6 L868.1,1206.5 L872.1,1206.4 L876.1,1206.4 L880.1,1206.3 L884.1,1206.2 L888.1,1206.1 L892.1,1206.0 L896.1,1206.0 L900.1,1205.9 L904.1,1205.8 L908.1,1205.7 L912.1,1205.6 L916.1,1205.6 L920.1,1205.5 L924.1,1205.4 L928.1,1205.4 L932.1,1205.3 L936.1,1205.2 L940.1,1205.2 L944.1,1205.1 L948.1,1205.0 L952.1,1205.0 L956.1,1204.9 L960.1,1204.8 L964.1,1204.8 L968.1,1204.7 L972.1,1204.7 L976.1,1204.6 L980.1,1204.6 L984.1,1204.5 L988.1,1204.5 L992.1,1204.4 L996.1,1204.3 L1000.1,1204.3 L1004.1,1204.2 L1008.1,1204.2 L1012.1,1204.1 L1016.1,1204.1 L1020.1,1204.1 L1024.1,1204.0 L1028.1,1204.0 L1032.1,1203.9 L1036.1,1203.9 L1040.1,1203.8 L1044.1,1203.8 L1048.1,1203.7 L1052.1,1203.7 L1056.1,1203.7 L1060.1,1203.6 L1064.1,1203.6 L1068.1,1203.5 L1072.1,1203.5 L1076.1,1203.5 L1080.1,1203.4 L1084.1,1203.4 L1088.1,1203.4 L1092.1,1203.3 L1096.1,1203.3 L1100.1,1203.3 L1104.1,1203.2 L1108.1,1203.2 L1112.1,1203.2 L1116.1,1203.1 L1120.1,1203.1 L1124.1,1203.1 L1128.1,1203.0 L1132.1,1203.0 L1136.1,1203.0 L1140.1,1202.9 L1144.1,1202.9 L1148.1,1202.9 L1152.1,1202.9 L1156.1,1202.8 L1160.1,1202.8 L1164.1,1202.8 L1168.1,1202.7 L1172.1,1202.7 L1176.1,1202.7 L1180.1,1202.7 L1184.1,1202.6 L1188.1,1202.6 L1192.1,1202.6 L1196.1,1202.5 L1200.1,1202.5 L1204.1,1202.5 L1208.1,1202.5 L1212.1,1202.4 L1216.1,1202.4 L1220.1,1202.4 L1224.1,1202.4 L1228.1,1202.3 L1232.1,1202.3 L1236.1,1202.3 L1240.1,1202.3 L1244.1,1202.2 L1248.1,1202.2 L1252.1,1202.2 L1256.1,1202.2 L1260.1,1202.1 L1264.1,1202.1 L1268.1,1202.1 L1272.1,1202.0 L1276.1,1202.0 L1280.1,1202.0 L1284.1,1202.0 L1288.1,1201.9 L1292.1,1201.9 L1296.1,1201.9 L1300.1,1201.9 L1304.1,1201.8 L1308.1,1201.8 L1312.1,1201.8 L1316.1,1201.7 L1320.1,1201.7 L1324.1,1201.7 L1328.1,1201.6 L1332.1,1201.6 L1336.1,1201.6 L1340.1,1201.5 L1344.1,1201.5 L1348.1,1201.5 L1352.1,1201.4 L1356.1,1201.4 L1360.1,1201.4 L1364.1,1201.3 L1368.1,1201.3 L1372.1,1201.3 L1376.1,1201.2 L1380.1,1201.2 L1384.1,1201.2 L1388.1,1201.1 L1392.1,1201.1 L1396.1,1201.0 L1400.1,1201.0 L1404.1,1201.0 L1408.1,1200.9 L1412.1,1200.9 L1416.1,1200.8 L1420.1,1200.8 L1424.1,1200.8 L1428.1,1200.7 L1432.1,1200.7 L1436.1,1200.6 L1440.1,1200.6 L1444.1,1200.5 L1448.1,1200.5 L1452.1,1200.4 L1456.1,1200.4 L1460.1,1200.3 L1464.1,1200.3 L1468.1,1200.2 L1472.1,1200.2 L1476.1,1200.1 L1480.1,1200.0 L1484.1,1200.0 L1488.1,1199.9 L1492.1,1199.9 L1496.1,1199.8 L1500.1,1199.8 L1504.1,1199.7 L1508.1,1199.6 L1512.1,1199.6 L1516.1,1199.5 L1520.1,1199.4 L1524.1,1199.4 L1528.1,1199.3 L1532.1,1199.2 L1536.1,1199.2 L1540.1,1199.1 L1544.1,1199.0 L1548.1,1198.9 L1552.1,1198.9 L1556.1,1198.8 L1560.1,1198.7 L1564.1,1198.6 L1568.0,1198.5" stroke="#8a2c34" stroke-width="4.0" stroke-dasharray="29.62 28.96 28.57 28.92 28.53 28.89 28.50 28.86 28.48 28.84 28.46 28.82 28.44 28.81 28.43 28.80 28.42 28.79 28.42 28.78 28.41 28.78 28.41 28.78 28.40 28.77 28.40 28.77 28.40 28.77 28.40 28.77 28.40 28.77 28.40 28.77 28.40 28.77 28.40 28.77 28.40 28.77 28.40 28.77 28.40 28.77 22.07 100.00"/>
<path d="M232.1,1252.0 L236.1,1247.0 L240.1,1244.3 L244.1,1241.7 L248.1,1239.1 L252.1,1236.6 L256.1,1234.0 L260.1,1231.5 L264.1,1229.1 L268.1,1226.6 L272.1,1224.2 L276.1,1221.8 L280.1,1219.5 L284.1,1217.2 L288.1,1214.9 L292.1,1212.6 L296.1,1210.3 L300.1,1208.1 L304.1,1205.9 L308.1,1203.7 L312.1,1201.6 L316.1,1199.4 L320.1,1197.3 L324.1,1195.3 L328.1,1193.2 L332.1,1191.2 L336.1,1189.1 L340.1,1187.1 L344.1,1185.2 L348.1,1183.2 L352.1,1181.3 L356.1,1179.4 L360.1,1177.5 L364.1,1175.6 L368.1,1173.7 L372.1,1171.9 L376.1,1170.0 L380.1,1168.2 L384.1,1166.4 L388.1,1164.7 L392.1,1162.9 L396.1,1161.2 L400.1,1159.4 L404.1,1157.7 L408.1,1156.0 L412.1,1154.3 L416.1,1152.6 L420.1,1151.0 L424.1,1149.3 L428.1,1147.7 L432.1,1146.0 L436.1,1144.4 L440.1,1142.8 L444.1,1141.2 L448.1,1139.6 L452.1,1138.1 L456.1,1136.5 L460.1,1134.9 L464.1,1133.4 L468.1,1131.8 L472.1,1130.3 L476.1,1128.8 L480.1,1127.3 L484.1,1125.7 L488.1,1124.2 L492.1,1122.7 L496.1,1121.3 L500.1,1119.8 L504.1,1118.3 L508.1,1116.9 L512.1,1115.4 L516.1,1114.0 L520.1,1112.5 L524.1,1111.1 L528.1,1109.7 L532.1,1108.3 L536.1,1106.8 L540.1,1105.4 L544.1,1104.1 L548.1,1102.7 L552.1,1101.3 L556.1,1099.9 L560.1,1098.6 L564.1,1097.2 L568.1,1095.9 L572.1,1094.5 L576.1,1093.2 L580.1,1091.9 L584.1,1090.6 L588.1,1089.3 L592.1,1088.0 L596.1,1086.7 L600.1,1085.4 L604.1,1084.1 L608.1,1082.8 L612.1,1081.6 L616.1,1080.3 L620.1,1079.1 L624.1,1077.8 L628.1,1076.6 L632.1,1075.4 L636.1,1074.2 L640.1,1073.0 L644.1,1071.8 L648.1,1070.6 L652.1,1069.4 L656.1,1068.2 L660.1,1067.0 L664.1,1065.8 L668.1,1064.7 L672.1,1063.5 L676.1,1062.4 L680.1,1061.2 L684.1,1060.1 L688.1,1059.0 L692.1,1057.8 L696.1,1056.7 L700.1,1055.6 L704.1,1054.5 L708.1,1053.4 L712.1,1052.3 L716.1,1051.3 L720.1,1050.2 L724.1,1049.1 L728.1,1048.0 L732.1,1047.0 L736.1,1045.9 L740.1,1044.9 L744.1,1043.9 L748.1,1042.8 L752.1,1041.8 L756.1,1040.8 L760.1,1039.8 L764.1,1038.8 L768.1,1037.8 L772.1,1036.8 L776.1,1035.8 L780.1,1034.8 L784.1,1033.8 L788.1,1032.9 L792.1,1031.9 L796.1,1031.0 L800.1,1030.0 L804.1,1029.1 L808.1,1028.1 L812.1,1027.2 L816.1,1026.3 L820.1,1025.4 L824.1,1024.4 L828.1,1023.5 L832.1,1022.6 L836.1,1021.7 L840.1,1020.8 L844.1,1020.0 L848.1,1019.1 L852.1,1018.2 L856.1,1017.3 L860.1,1016.5 L864.1,1015.6 L868.1,1014.8 L872.1,1013.9 L876.1,1013.1 L880.1,1012.2 L884.1,1011.4 L888.1,1010.6 L892.1,1009.8 L896.1,1008.9 L900.1,1008.1 L904.1,1007.3 L908.1,1006.5 L912.1,1005.7 L916.1,1005.0 L920.1,1004.2 L924.1,1003.4 L928.1,1002.6 L932.1,1001.8 L936.1,1001.1 L940.1,1000.3 L944.1,999.6 L948.1,998.8 L952.1,998.1 L956.1,997.3 L960.1,996.6 L964.1,995.9 L968.1,995.2 L972.1,994.4 L976.1,993.7 L980.1,993.0 L984.1,992.3 L988.1,991.6 L992.1,990.9 L996.1,990.2 L1000.1,989.5 L1004.1,988.9 L1008.1,988.2 L1012.1,987.5 L1016.1,986.8 L1020.1,986.2 L1024.1,985.5 L1028.1,984.9 L1032.1,984.2 L1036.1,983.6 L1040.1,982.9 L1044.1,982.3 L1048.1,981.7 L1052.1,981.0 L1056.1,980.4 L1060.1,979.8 L1064.1,979.2 L1068.1,978.6 L1072.1,977.9 L1076.1,977.3 L1080.1,976.7 L1084.1,976.1 L1088.1,975.5 L1092.1,975.0 L1096.1,974.4 L1100.1,973.8 L1104.1,973.2 L1108.1,972.6 L1112.1,972.1 L1116.1,971.5 L1120.1,970.9 L1124.1,970.4 L1128.1,969.8 L1132.1,969.3 L1136.1,968.7 L1140.1,968.2 L1144.1,967.7 L1148.1,967.1 L1152.1,966.6 L1156.1,966.1 L1160.1,965.5 L1164.1,965.0 L1168.1,964.5 L1172.1,964.0 L1176.1,963.5 L1180.1,962.9 L1184.1,962.4 L1188.1,961.9 L1192.1,961.4 L1196.1,960.9 L1200.1,960.4 L1204.1,960.0 L1208.1,959.5 L1212.1,959.0 L1216.1,958.5 L1220.1,958.0 L1224.1,957.6 L1228.1,957.1 L1232.1,956.6 L1236.1,956.1 L1240.1,955.7 L1244.1,955.2 L1248.1,954.8 L1252.1,954.3 L1256.1,953.9 L1260.1,953.4 L1264.1,953.0 L1268.1,952.5 L1272.1,952.1 L1276.1,951.6 L1280.1,951.2 L1284.1,950.8 L1288.1,950.3 L1292.1,949.9 L1296.1,949.5 L1300.1,949.1 L1304.1,948.6 L1308.1,948.2 L1312.1,947.8 L1316.1,947.4 L1320.1,947.0 L1324.1,946.6 L1328.1,946.2 L1332.1,945.8 L1336.1,945.4 L1340.1,945.0 L1344.1,944.6 L1348.1,944.2 L1352.1,943.8 L1356.1,943.4 L1360.1,943.0 L1364.1,942.6 L1368.1,942.2 L1372.1,941.8 L1376.1,941.5 L1380.1,941.1 L1384.1,940.7 L1388.1,940.3 L1392.1,939.9 L1396.1,939.6 L1400.1,939.2 L1404.1,938.8 L1408.1,938.5 L1412.1,938.1 L1416.1,937.7 L1420.1,937.4 L1424.1,937.0 L1428.1,936.6 L1432.1,936.3 L1436.1,935.9 L1440.1,935.6 L1444.1,935.2 L1448.1,934.9 L1452.1,934.5 L1456.1,934.2 L1460.1,933.8 L1464.1,933.5 L1468.1,933.1 L1472.1,932.8 L1476.1,932.4 L1480.1,932.1 L1484.1,931.8 L1488.1,931.4 L1492.1,931.1 L1496.1,930.7 L1500.1,930.4 L1504.1,930.1 L1508.1,929.7 L1512.1,929.4 L1516.1,929.1 L1520.1,928.7 L1524.1,928.4 L1528.1,928.1 L1532.1,927.7 L1536.1,927.4 L1540.1,927.1 L1544.1,926.8 L1548.1,926.4 L1552.1,926.1 L1556.1,925.8 L1560.1,925.5 L1564.1,925.1 L1568.0,924.8" stroke="#a53aa9" stroke-width="3.3"/>
<path d="M232.1,1252.0 L236.1,1233.2 L240.1,1218.9 L244.1,1205.0 L248.1,1191.4 L252.1,1178.2 L256.1,1165.4 L260.1,1152.9 L264.1,1140.7 L268.1,1128.8 L272.1,1117.2 L276.1,1105.9 L280.1,1094.8 L284.1,1084.0 L288.1,1073.5 L292.1,1063.2 L296.1,1053.2 L300.1,1043.3 L304.1,1033.7 L308.1,1024.3 L312.1,1015.0 L316.1,1005.9 L320.1,997.0 L324.1,988.2 L328.1,979.6 L332.1,971.1 L336.1,962.7 L340.1,954.5 L344.1,946.3 L348.1,938.4 L352.1,930.5 L356.1,922.7 L360.1,915.1 L364.1,907.6 L368.1,900.2 L372.1,892.9 L376.1,885.7 L380.1,878.6 L384.1,871.6 L388.1,864.8 L392.1,858.0 L396.1,851.3 L400.1,844.8 L404.1,838.3 L408.1,831.9 L412.1,825.6 L416.1,819.4 L420.1,813.3 L424.1,807.3 L428.1,801.3 L432.1,795.5 L436.1,789.7 L440.1,784.0 L444.1,778.3 L448.1,772.7 L452.1,767.2 L456.1,761.8 L460.1,756.4 L464.1,751.2 L468.1,745.9 L472.1,740.8 L476.1,735.7 L480.1,730.6 L484.1,725.7 L488.1,720.8 L492.1,715.9 L496.1,711.1 L500.1,706.4 L504.1,701.8 L508.1,697.2 L512.1,692.6 L516.1,688.2 L520.1,683.7 L524.1,679.4 L528.1,675.1 L532.1,670.8 L536.1,666.6 L540.1,662.5 L544.1,658.4 L548.1,654.4 L552.1,650.4 L556.1,646.5 L560.1,642.6 L564.1,638.8 L568.1,635.0 L572.1,631.3 L576.1,627.6 L580.1,624.0 L584.1,620.4 L588.1,616.9 L592.1,613.4 L596.1,610.0 L600.1,606.6 L604.1,603.2 L608.1,599.9 L612.1,596.7 L616.1,593.5 L620.1,590.3 L624.1,587.2 L628.1,584.1 L632.1,581.0 L636.1,578.0 L640.1,575.1 L644.1,572.1 L648.1,569.2 L652.1,566.4 L656.1,563.6 L660.1,560.8 L664.1,558.0 L668.1,555.3 L672.1,552.6 L676.1,550.0 L680.1,547.4 L684.1,544.8 L688.1,542.2 L692.1,539.7 L696.1,537.2 L700.1,534.8 L704.1,532.3 L708.1,529.9 L712.1,527.6 L716.1,525.2 L720.1,522.9 L724.1,520.6 L728.1,518.3 L732.1,516.1 L736.1,513.8 L740.1,511.6 L744.1,509.5 L748.1,507.3 L752.1,505.2 L756.1,503.1 L760.1,501.0 L764.1,498.9 L768.1,496.9 L772.1,494.8 L776.1,492.8 L780.1,490.8 L784.1,488.9 L788.1,486.9 L792.1,485.0 L796.1,483.1 L800.1,481.2 L804.1,479.4 L808.1,477.5 L812.1,475.7 L816.1,473.9 L820.1,472.1 L824.1,470.4 L828.1,468.6 L832.1,466.9 L836.1,465.2 L840.1,463.5 L844.1,461.9 L848.1,460.2 L852.1,458.6 L856.1,457.0 L860.1,455.4 L864.1,453.8 L868.1,452.3 L872.1,450.7 L876.1,449.2 L880.1,447.7 L884.1,446.2 L888.1,444.8 L892.1,443.3 L896.1,441.9 L900.1,440.5 L904.1,439.1 L908.1,437.7 L912.1,436.3 L916.1,435.0 L920.1,433.7 L924.1,432.3 L928.1,431.0 L932.1,429.8 L936.1,428.5 L940.1,427.2 L944.1,426.0 L948.1,424.8 L952.1,423.6 L956.1,422.4 L960.1,421.2 L964.1,420.1 L968.1,418.9 L972.1,417.8 L976.1,416.7 L980.1,415.6 L984.1,414.5 L988.1,413.4 L992.1,412.4 L996.1,411.3 L1000.1,410.3 L1004.1,409.3 L1008.1,408.3 L1012.1,407.3 L1016.1,406.3 L1020.1,405.3 L1024.1,404.4 L1028.1,403.5 L1032.1,402.5 L1036.1,401.6 L1040.1,400.7 L1044.1,399.8 L1048.1,398.9 L1052.1,398.1 L1056.1,397.2 L1060.1,396.4 L1064.1,395.6 L1068.1,394.7 L1072.1,393.9 L1076.1,393.1 L1080.1,392.4 L1084.1,391.6 L1088.1,390.8 L1092.1,390.1 L1096.1,389.3 L1100.1,388.6 L1104.1,387.9 L1108.1,387.2 L1112.1,386.4 L1116.1,385.8 L1120.1,385.1 L1124.1,384.4 L1128.1,383.7 L1132.1,383.1 L1136.1,382.4 L1140.1,381.8 L1144.1,381.2 L1148.1,380.6 L1152.1,379.9 L1156.1,379.3 L1160.1,378.7 L1164.1,378.2 L1168.1,377.6 L1172.1,377.0 L1176.1,376.4 L1180.1,375.9 L1184.1,375.3 L1188.1,374.8 L1192.1,374.3 L1196.1,373.7 L1200.1,373.2 L1204.1,372.7 L1208.1,372.2 L1212.1,371.7 L1216.1,371.2 L1220.1,370.7 L1224.1,370.2 L1228.1,369.8 L1232.1,369.3 L1236.1,368.8 L1240.1,368.4 L1244.1,367.9 L1248.1,367.5 L1252.1,367.0 L1256.1,366.6 L1260.1,366.2 L1264.1,365.8 L1268.1,365.3 L1272.1,364.9 L1276.1,364.5 L1280.1,364.1 L1284.1,363.7 L1288.1,363.3 L1292.1,362.9 L1296.1,362.5 L1300.1,362.1 L1304.1,361.7 L1308.1,361.3 L1312.1,360.9 L1316.1,360.6 L1320.1,360.2 L1324.1,359.8 L1328.1,359.5 L1332.1,359.1 L1336.1,358.7 L1340.1,358.4 L1344.1,358.0 L1348.1,357.6 L1352.1,357.3 L1356.1,356.9 L1360.1,356.6 L1364.1,356.2 L1368.1,355.9 L1372.1,355.5 L1376.1,355.2 L1380.1,354.8 L1384.1,354.5 L1388.1,354.1 L1392.1,353.8 L1396.1,353.4 L1400.1,353.1 L1404.1,352.7 L1408.1,352.4 L1412.1,352.0 L1416.1,351.7 L1420.1,351.3 L1424.1,351.0 L1428.1,350.6 L1432.1,350.3 L1436.1,349.9 L1440.1,349.6 L1444.1,349.2 L1448.1,348.9 L1452.1,348.5 L1456.1,348.2 L1460.1,347.8 L1464.1,347.4 L1468.1,347.1 L1472.1,346.7 L1476.1,346.3 L1480.1,346.0 L1484.1,345.6 L1488.1,345.2 L1492.1,344.8 L1496.1,344.4 L1500.1,344.1 L1504.1,343.7 L1508.1,343.3 L1512.1,342.9 L1516.1,342.5 L1520.1,342.1 L1524.1,341.7 L1528.1,341.2 L1532.1,340.8 L1536.1,340.4 L1540.1,340.0 L1544.1,339.5 L1548.1,339.1 L1552.1,338.7 L1556.1,338.2 L1560.1,337.8 L1564.1,337.3 L1568.0,336.9" stroke="#45a545" stroke-width="3.4"/>
<path d="M232.1,1252.0 L236.1,1235.2 L240.1,1223.5 L244.1,1212.0 L248.1,1200.7 L252.1,1189.6 L256.1,1178.6 L260.1,1167.9 L264.1,1157.3 L268.1,1146.9 L272.1,1136.7 L276.1,1126.7 L280.1,1116.8 L284.1,1107.1 L288.1,1097.6 L292.1,1088.2 L296.1,1079.0 L300.1,1070.0 L304.1,1061.1 L308.1,1052.4 L312.1,1043.8 L316.1,1035.4 L320.1,1027.1 L324.1,1019.0 L328.1,1011.1 L332.1,1003.3 L336.1,995.6 L340.1,988.1 L344.1,980.7 L348.1,973.4 L352.1,966.3 L356.1,959.3 L360.1,952.5 L364.1,945.7 L368.1,939.1 L372.1,932.7 L376.1,926.3 L380.1,920.1 L384.1,914.0 L388.1,908.0 L392.1,902.1 L396.1,896.3 L400.1,890.7 L404.1,885.1 L408.1,879.7 L412.1,874.3 L416.1,869.1 L420.1,863.9 L424.1,858.9 L428.1,853.9 L432.1,849.1 L436.1,844.3 L440.1,839.7 L444.1,835.1 L448.1,830.6 L452.1,826.1 L456.1,821.8 L460.1,817.5 L464.1,813.3 L468.1,809.2 L472.1,805.2 L476.1,801.2 L480.1,797.3 L484.1,793.5 L488.1,789.7 L492.1,786.0 L496.1,782.4 L500.1,778.8 L504.1,775.2 L508.1,771.8 L512.1,768.3 L516.1,764.9 L520.1,761.6 L524.1,758.3 L528.1,755.1 L532.1,751.9 L536.1,748.8 L540.1,745.7 L544.1,742.7 L548.1,739.7 L552.1,736.7 L556.1,733.8 L560.1,731.0 L564.1,728.1 L568.1,725.4 L572.1,722.6 L576.1,720.0 L580.1,717.3 L584.1,714.7 L588.1,712.2 L592.1,709.7 L596.1,707.2 L600.1,704.7 L604.1,702.3 L608.1,700.0 L612.1,697.7 L616.1,695.4 L620.1,693.2 L624.1,691.0 L628.1,688.8 L632.1,686.7 L636.1,684.6 L640.1,682.5 L644.1,680.5 L648.1,678.5 L652.1,676.5 L656.1,674.6 L660.1,672.7 L664.1,670.8 L668.1,669.0 L672.1,667.2 L676.1,665.4 L680.1,663.7 L684.1,662.0 L688.1,660.3 L692.1,658.7 L696.1,657.1 L700.1,655.5 L704.1,653.9 L708.1,652.4 L712.1,650.8 L716.1,649.4 L720.1,647.9 L724.1,646.5 L728.1,645.0 L732.1,643.7 L736.1,642.3 L740.1,640.9 L744.1,639.6 L748.1,638.3 L752.1,637.1 L756.1,635.8 L760.1,634.6 L764.1,633.3 L768.1,632.1 L772.1,631.0 L776.1,629.8 L780.1,628.7 L784.1,627.5 L788.1,626.4 L792.1,625.3 L796.1,624.3 L800.1,623.2 L804.1,622.1 L808.1,621.1 L812.1,620.1 L816.1,619.1 L820.1,618.1 L824.1,617.1 L828.1,616.1 L832.1,615.2 L836.1,614.2 L840.1,613.3 L844.1,612.4 L848.1,611.5 L852.1,610.6 L856.1,609.7 L860.1,608.8 L864.1,607.9 L868.1,607.1 L872.1,606.2 L876.1,605.4 L880.1,604.6 L884.1,603.8 L888.1,603.0 L892.1,602.2 L896.1,601.4 L900.1,600.6 L904.1,599.9 L908.1,599.1 L912.1,598.4 L916.1,597.7 L920.1,596.9 L924.1,596.2 L928.1,595.5 L932.1,594.8 L936.1,594.1 L940.1,593.5 L944.1,592.8 L948.1,592.2 L952.1,591.5 L956.1,590.9 L960.1,590.3 L964.1,589.6 L968.1,589.0 L972.1,588.4 L976.1,587.8 L980.1,587.3 L984.1,586.7 L988.1,586.1 L992.1,585.6 L996.1,585.0 L1000.1,584.5 L1004.1,583.9 L1008.1,583.4 L1012.1,582.9 L1016.1,582.4 L1020.1,581.9 L1024.1,581.4 L1028.1,580.9 L1032.1,580.5 L1036.1,580.0 L1040.1,579.5 L1044.1,579.1 L1048.1,578.6 L1052.1,578.2 L1056.1,577.8 L1060.1,577.3 L1064.1,576.9 L1068.1,576.5 L1072.1,576.1 L1076.1,575.7 L1080.1,575.3 L1084.1,574.9 L1088.1,574.6 L1092.1,574.2 L1096.1,573.8 L1100.1,573.5 L1104.1,573.1 L1108.1,572.8 L1112.1,572.4 L1116.1,572.1 L1120.1,571.8 L1124.1,571.4 L1128.1,571.1 L1132.1,570.8 L1136.1,570.5 L1140.1,570.2 L1144.1,569.9 L1148.1,569.6 L1152.1,569.4 L1156.1,569.1 L1160.1,568.8 L1164.1,568.5 L1168.1,568.3 L1172.1,568.0 L1176.1,567.8 L1180.1,567.5 L1184.1,567.3 L1188.1,567.0 L1192.1,566.8 L1196.1,566.6 L1200.1,566.3 L1204.1,566.1 L1208.1,565.9 L1212.1,565.7 L1216.1,565.5 L1220.1,565.3 L1224.1,565.1 L1228.1,564.9 L1232.1,564.7 L1236.1,564.5 L1240.1,564.3 L1244.1,564.1 L1248.1,563.9 L1252.1,563.7 L1256.1,563.6 L1260.1,563.4 L1264.1,563.2 L1268.1,563.1 L1272.1,562.9 L1276.1,562.7 L1280.1,562.6 L1284.1,562.4 L1288.1,562.3 L1292.1,562.1 L1296.1,562.0 L1300.1,561.8 L1304.1,561.7 L1308.1,561.6 L1312.1,561.4 L1316.1,561.3 L1320.1,561.2 L1324.1,561.0 L1328.1,560.9 L1332.1,560.8 L1336.1,560.6 L1340.1,560.5 L1344.1,560.4 L1348.1,560.3 L1352.1,560.1 L1356.1,560.0 L1360.1,559.9 L1364.1,559.8 L1368.1,559.7 L1372.1,559.5 L1376.1,559.4 L1380.1,559.3 L1384.1,559.2 L1388.1,559.1 L1392.1,559.0 L1396.1,558.8 L1400.1,558.7 L1404.1,558.6 L1408.1,558.5 L1412.1,558.4 L1416.1,558.3 L1420.1,558.2 L1424.1,558.1 L1428.1,557.9 L1432.1,557.8 L1436.1,557.7 L1440.1,557.6 L1444.1,557.5 L1448.1,557.4 L1452.1,557.3 L1456.1,557.1 L1460.1,557.0 L1464.1,556.9 L1468.1,556.8 L1472.1,556.7 L1476.1,556.5 L1480.1,556.4 L1484.1,556.3 L1488.1,556.2 L1492.1,556.0 L1496.1,555.9 L1500.1,555.8 L1504.1,555.6 L1508.1,555.5 L1512.1,555.4 L1516.1,555.2 L1520.1,555.1 L1524.1,554.9 L1528.1,554.8 L1532.1,554.6 L1536.1,554.5 L1540.1,554.3 L1544.1,554.2 L1548.1,554.0 L1552.1,553.9 L1556.1,553.7 L1560.1,553.5 L1564.1,553.4 L1568.0,553.2" stroke="#8a2c34" stroke-width="4.0" stroke-dasharray="28.12 30.50 30.25 30.82 30.62 31.26 31.13 31.87 31.86 32.77 32.95 34.16 34.69 36.41 37.59 39.98 38.37 37.11 35.17 34.35 32.84 32.36 31.21 31.02 30.15 30.18 29.51 29.69 29.16 29.42 28.93 29.21 28.76 29.07 28.63 28.96 28.55 28.89 28.49 28.84 28.45 28.81 28.43 28.79 28.42 28.79 28.41 28.78 28.41 28.78 28.41 28.79 28.42 28.79 0.45 100.00"/>
<path d="M232.1,1252.0 L236.1,1235.5 L240.1,1229.0 L244.1,1222.5 L248.1,1216.1 L252.1,1209.7 L256.1,1203.4 L260.1,1197.1 L264.1,1190.8 L268.1,1184.6 L272.1,1178.5 L276.1,1172.4 L280.1,1166.3 L284.1,1160.3 L288.1,1154.3 L292.1,1148.3 L296.1,1142.4 L300.1,1136.6 L304.1,1130.8 L308.1,1125.0 L312.1,1119.3 L316.1,1113.6 L320.1,1108.0 L324.1,1102.4 L328.1,1096.8 L332.1,1091.3 L336.1,1085.8 L340.1,1080.3 L344.1,1074.9 L348.1,1069.6 L352.1,1064.3 L356.1,1059.0 L360.1,1053.7 L364.1,1048.5 L368.1,1043.4 L372.1,1038.2 L376.1,1033.1 L380.1,1028.1 L384.1,1023.1 L388.1,1018.1 L392.1,1013.2 L396.1,1008.2 L400.1,1003.4 L404.1,998.5 L408.1,993.7 L412.1,989.0 L416.1,984.2 L420.1,979.6 L424.1,974.9 L428.1,970.3 L432.1,965.7 L436.1,961.1 L440.1,956.6 L444.1,952.1 L448.1,947.6 L452.1,943.2 L456.1,938.8 L460.1,934.5 L464.1,930.1 L468.1,925.8 L472.1,921.6 L476.1,917.3 L480.1,913.1 L484.1,908.9 L488.1,904.8 L492.1,900.7 L496.1,896.6 L500.1,892.5 L504.1,888.5 L508.1,884.5 L512.1,880.6 L516.1,876.6 L520.1,872.7 L524.1,868.8 L528.1,865.0 L532.1,861.1 L536.1,857.3 L540.1,853.5 L544.1,849.8 L548.1,846.1 L552.1,842.4 L556.1,838.7 L560.1,835.1 L564.1,831.4 L568.1,827.8 L572.1,824.3 L576.1,820.7 L580.1,817.2 L584.1,813.7 L588.1,810.2 L592.1,806.8 L596.1,803.4 L600.1,800.0 L604.1,796.6 L608.1,793.3 L612.1,789.9 L616.1,786.6 L620.1,783.4 L624.1,780.1 L628.1,776.9 L632.1,773.7 L636.1,770.5 L640.1,767.3 L644.1,764.2 L648.1,761.1 L652.1,758.0 L656.1,754.9 L660.1,751.8 L664.1,748.8 L668.1,745.8 L672.1,742.8 L676.1,739.8 L680.1,736.9 L684.1,734.0 L688.1,731.1 L692.1,728.2 L696.1,725.3 L700.1,722.5 L704.1,719.6 L708.1,716.8 L712.1,714.1 L716.1,711.3 L720.1,708.5 L724.1,705.8 L728.1,703.1 L732.1,700.4 L736.1,697.8 L740.1,695.1 L744.1,692.5 L748.1,689.9 L752.1,687.3 L756.1,684.7 L760.1,682.1 L764.1,679.6 L768.1,677.0 L772.1,674.5 L776.1,672.0 L780.1,669.6 L784.1,667.1 L788.1,664.7 L792.1,662.2 L796.1,659.8 L800.1,657.4 L804.1,655.1 L808.1,652.7 L812.1,650.3 L816.1,648.0 L820.1,645.7 L824.1,643.4 L828.1,641.1 L832.1,638.8 L836.1,636.6 L840.1,634.3 L844.1,632.1 L848.1,629.9 L852.1,627.7 L856.1,625.5 L860.1,623.3 L864.1,621.2 L868.1,619.0 L872.1,616.9 L876.1,614.8 L880.1,612.7 L884.1,610.6 L888.1,608.5 L892.1,606.4 L896.1,604.4 L900.1,602.3 L904.1,600.3 L908.1,598.3 L912.1,596.3 L916.1,594.3 L920.1,592.3 L924.1,590.4 L928.1,588.4 L932.1,586.5 L936.1,584.5 L940.1,582.6 L944.1,580.7 L948.1,578.8 L952.1,577.0 L956.1,575.1 L960.1,573.2 L964.1,571.4 L968.1,569.6 L972.1,567.8 L976.1,566.0 L980.1,564.2 L984.1,562.4 L988.1,560.6 L992.1,558.9 L996.1,557.1 L1000.1,555.4 L1004.1,553.6 L1008.1,551.9 L1012.1,550.2 L1016.1,548.5 L1020.1,546.9 L1024.1,545.2 L1028.1,543.5 L1032.1,541.9 L1036.1,540.3 L1040.1,538.6 L1044.1,537.0 L1048.1,535.4 L1052.1,533.8 L1056.1,532.3 L1060.1,530.7 L1064.1,529.1 L1068.1,527.6 L1072.1,526.0 L1076.1,524.5 L1080.1,523.0 L1084.1,521.5 L1088.1,520.0 L1092.1,518.5 L1096.1,517.0 L1100.1,515.5 L1104.1,514.1 L1108.1,512.6 L1112.1,511.2 L1116.1,509.8 L1120.1,508.4 L1124.1,506.9 L1128.1,505.5 L1132.1,504.2 L1136.1,502.8 L1140.1,501.4 L1144.1,500.0 L1148.1,498.7 L1152.1,497.3 L1156.1,496.0 L1160.1,494.7 L1164.1,493.4 L1168.1,492.0 L1172.1,490.7 L1176.1,489.5 L1180.1,488.2 L1184.1,486.9 L1188.1,485.6 L1192.1,484.4 L1196.1,483.1 L1200.1,481.9 L1204.1,480.7 L1208.1,479.4 L1212.1,478.2 L1216.1,477.0 L1220.1,475.8 L1224.1,474.6 L1228.1,473.4 L1232.1,472.3 L1236.1,471.1 L1240.1,469.9 L1244.1,468.8 L1248.1,467.6 L1252.1,466.5 L1256.1,465.4 L1260.1,464.3 L1264.1,463.1 L1268.1,462.0 L1272.1,460.9 L1276.1,459.8 L1280.1,458.8 L1284.1,457.7 L1288.1,456.6 L1292.1,455.5 L1296.1,454.5 L1300.1,453.4 L1304.1,452.4 L1308.1,451.4 L1312.1,450.3 L1316.1,449.3 L1320.1,448.3 L1324.1,447.3 L1328.1,446.3 L1332.1,445.3 L1336.1,444.3 L1340.1,443.3 L1344.1,442.3 L1348.1,441.3 L1352.1,440.4 L1356.1,439.4 L1360.1,438.5 L1364.1,437.5 L1368.1,436.6 L1372.1,435.6 L1376.1,434.7 L1380.1,433.8 L1384.1,432.8 L1388.1,431.9 L1392.1,431.0 L1396.1,430.1 L1400.1,429.2 L1404.1,428.3 L1408.1,427.4 L1412.1,426.5 L1416.1,425.7 L1420.1,424.8 L1424.1,423.9 L1428.1,423.1 L1432.1,422.2 L1436.1,421.3 L1440.1,420.5 L1444.1,419.6 L1448.1,418.8 L1452.1,418.0 L1456.1,417.1 L1460.1,416.3 L1464.1,415.5 L1468.1,414.7 L1472.1,413.8 L1476.1,413.0 L1480.1,412.2 L1484.1,411.4 L1488.1,410.6 L1492.1,409.8 L1496.1,409.0 L1500.1,408.3 L1504.1,407.5 L1508.1,406.7 L1512.1,405.9 L1516.1,405.1 L1520.1,404.4 L1524.1,403.6 L1528.1,402.8 L1532.1,402.1 L1536.1,401.3 L1540.1,400.6 L1544.1,399.8 L1548.1,399.1 L1552.1,398.3 L1556.1,397.6 L1560.1,396.8 L1564.1,396.1 L1568.0,395.4" stroke="#c39350" stroke-width="3.8" stroke-dasharray="26.04 33.95 33.83 34.62 34.56 35.45 35.47 36.46 36.59 37.73 37.99 39.32 39.74 40.11 38.66 38.28 36.99 36.72 35.56 35.39 34.37 34.29 33.38 33.39 32.58 32.66 31.93 32.05 31.36 31.52 30.88 31.06 30.46 30.67 30.11 30.35 29.82 30.08 29.57 29.85 29.38 29.67 29.22 29.53 29.09 29.42 28.99 29.33 28.92 29.26 2.34 100.00"/>
<path d="M232.1,1252.0 L236.1,1232.4 L240.1,1218.8 L244.1,1205.4 L248.1,1192.4 L252.1,1179.6 L256.1,1167.1 L260.1,1154.8 L264.1,1142.7 L268.1,1130.9 L272.1,1119.4 L276.1,1108.1 L280.1,1097.0 L284.1,1086.1 L288.1,1075.4 L292.1,1064.9 L296.1,1054.6 L300.1,1044.6 L304.1,1034.7 L308.1,1024.9 L312.1,1015.4 L316.1,1006.0 L320.1,996.8 L324.1,987.7 L328.1,978.8 L332.1,970.1 L336.1,961.4 L340.1,952.9 L344.1,944.5 L348.1,936.3 L352.1,928.1 L356.1,920.1 L360.1,912.1 L364.1,904.3 L368.1,896.5 L372.1,888.8 L376.1,881.2 L380.1,873.7 L384.1,866.3 L388.1,858.9 L392.1,851.7 L396.1,844.5 L400.1,837.4 L404.1,830.4 L408.1,823.4 L412.1,816.5 L416.1,809.7 L420.1,803.0 L424.1,796.4 L428.1,789.8 L432.1,783.2 L436.1,776.8 L440.1,770.4 L444.1,764.1 L448.1,757.9 L452.1,751.7 L456.1,745.5 L460.1,739.5 L464.1,733.5 L468.1,727.5 L472.1,721.7 L476.1,715.8 L480.1,710.1 L484.1,704.4 L488.1,698.7 L492.1,693.1 L496.1,687.6 L500.1,682.1 L504.1,676.7 L508.1,671.3 L512.1,666.0 L516.1,660.7 L520.1,655.5 L524.1,650.3 L528.1,645.2 L532.1,640.2 L536.1,635.2 L540.1,630.2 L544.1,625.3 L548.1,620.5 L552.1,615.7 L556.1,610.9 L560.1,606.2 L564.1,601.6 L568.1,597.0 L572.1,592.4 L576.1,587.9 L580.1,583.5 L584.1,579.0 L588.1,574.7 L592.1,570.3 L596.1,566.1 L600.1,561.8 L604.1,557.6 L608.1,553.5 L612.1,549.4 L616.1,545.3 L620.1,541.3 L624.1,537.3 L628.1,533.4 L632.1,529.5 L636.1,525.6 L640.1,521.8 L644.1,518.0 L648.1,514.3 L652.1,510.6 L656.1,507.0 L660.1,503.3 L664.1,499.7 L668.1,496.2 L672.1,492.7 L676.1,489.2 L680.1,485.8 L684.1,482.4 L688.1,479.0 L692.1,475.7 L696.1,472.4 L700.1,469.1 L704.1,465.8 L708.1,462.6 L712.1,459.5 L716.1,456.3 L720.1,453.2 L724.1,450.1 L728.1,447.1 L732.1,444.1 L736.1,441.1 L740.1,438.1 L744.1,435.2 L748.1,432.2 L752.1,429.4 L756.1,426.5 L760.1,423.7 L764.1,420.9 L768.1,418.1 L772.1,415.4 L776.1,412.6 L780.1,409.9 L784.1,407.2 L788.1,404.6 L792.1,401.9 L796.1,399.3 L800.1,396.7 L804.1,394.2 L808.1,391.6 L812.1,389.1 L816.1,386.6 L820.1,384.1 L824.1,381.7 L828.1,379.2 L832.1,376.8 L836.1,374.4 L840.1,372.0 L844.1,369.7 L848.1,367.3 L852.1,365.0 L856.1,362.7 L860.1,360.5 L864.1,358.2 L868.1,356.0 L872.1,353.8 L876.1,351.6 L880.1,349.4 L884.1,347.2 L888.1,345.1 L892.1,343.0 L896.1,340.9 L900.1,338.8 L904.1,336.7 L908.1,334.7 L912.1,332.7 L916.1,330.7 L920.1,328.7 L924.1,326.7 L928.1,324.7 L932.1,322.8 L936.1,320.9 L940.1,319.0 L944.1,317.1 L948.1,315.3 L952.1,313.4 L956.1,311.6 L960.1,309.8 L964.1,308.0 L968.1,306.2 L972.1,304.4 L976.1,302.7 L980.1,300.9 L984.1,299.2 L988.1,297.5 L992.1,295.9 L996.1,294.2 L1000.1,292.5 L1004.1,290.9 L1008.1,289.3 L1012.1,287.7 L1016.1,286.1 L1020.1,284.5 L1024.1,282.9 L1028.1,281.4 L1032.1,279.9 L1036.1,278.4 L1040.1,276.9 L1044.1,275.4 L1048.1,273.9 L1052.1,272.4 L1056.1,271.0 L1060.1,269.6 L1064.1,268.1 L1068.1,266.7 L1072.1,265.3 L1076.1,264.0 L1080.1,262.6 L1084.1,261.2 L1088.1,259.9 L1092.1,258.6 L1096.1,257.3 L1100.1,256.0 L1104.1,254.7 L1108.1,253.4 L1112.1,252.1 L1116.1,250.9 L1120.1,249.6 L1124.1,248.4 L1128.1,247.2 L1132.1,246.0 L1136.1,244.8 L1140.1,243.6 L1144.1,242.4 L1148.1,241.2 L1152.1,240.1 L1156.1,238.9 L1160.1,237.8 L1164.1,236.7 L1168.1,235.6 L1172.1,234.5 L1176.1,233.4 L1180.1,232.3 L1184.1,231.2 L1188.1,230.2 L1192.1,229.1 L1196.1,228.1 L1200.1,227.0 L1204.1,226.0 L1208.1,225.0 L1212.1,224.0 L1216.1,223.0 L1220.1,222.0 L1224.1,221.0 L1228.1,220.0 L1232.1,219.1 L1236.1,218.1 L1240.1,217.2 L1244.1,216.2 L1248.1,215.3 L1252.1,214.4 L1256.1,213.4 L1260.1,212.5 L1264.1,211.6 L1268.1,210.7 L1272.1,209.8 L1276.1,208.9 L1280.1,208.1 L1284.1,207.2 L1288.1,206.3 L1292.1,205.5 L1296.1,204.6 L1300.1,203.8 L1304.1,202.9 L1308.1,202.1 L1312.1,201.2 L1316.1,200.4 L1320.1,199.6 L1324.1,198.8 L1328.1,198.0 L1332.1,197.2 L1336.1,196.4 L1340.1,195.6 L1344.1,194.8 L1348.1,194.0 L1352.1,193.2 L1356.1,192.4 L1360.1,191.6 L1364.1,190.9 L1368.1,190.1 L1372.1,189.3 L1376.1,188.6 L1380.1,187.8 L1384.1,187.1 L1388.1,186.3 L1392.1,185.6 L1396.1,184.8 L1400.1,184.1 L1404.1,183.3 L1408.1,182.6 L1412.1,181.9 L1416.1,181.1 L1420.1,180.4 L1424.1,179.7 L1428.1,178.9 L1432.1,178.2 L1436.1,177.5 L1440.1,176.8 L1444.1,176.1 L1448.1,175.3 L1452.1,174.6 L1456.1,173.9 L1460.1,173.2 L1464.1,172.5 L1468.1,171.7 L1472.1,171.0 L1476.1,170.3 L1480.1,169.6 L1484.1,168.9 L1488.1,168.2 L1492.1,167.4 L1496.1,166.7 L1500.1,166.0 L1504.1,165.3 L1508.1,164.6 L1512.1,163.8 L1516.1,163.1 L1520.1,162.4 L1524.1,161.7 L1528.1,161.0 L1532.1,160.2 L1536.1,159.5 L1540.1,158.8 L1544.1,158.0 L1548.1,157.3 L1552.1,156.6 L1556.1,155.8 L1560.1,155.1 L1564.1,154.3 L1568.0,153.6" stroke="#3a3793" stroke-width="3.8" stroke-dasharray="26.85 30.04 29.77 30.29 30.05 30.61 30.41 31.03 30.87 31.54 31.41 32.11 31.98 32.70 32.61 33.40 33.38 34.27 34.33 35.35 35.55 36.78 37.21 38.78 39.53 39.87 38.04 37.36 35.87 35.46 34.27 34.08 33.07 32.98 32.09 32.07 31.28 31.34 30.63 30.75 30.11 30.29 29.72 29.94 29.42 29.68 29.20 29.49 29.04 29.36 28.94 29.28 28.88 29.24 28.85 29.23 28.86 29.25 2.95 100.00"/>
<path d="M232.1,1252.0 L236.1,1239.8 L240.1,1227.6 L244.1,1215.7 L248.1,1204.1 L252.1,1192.7 L256.1,1181.5 L260.1,1170.6 L264.1,1159.9 L268.1,1149.4 L272.1,1139.1 L276.1,1129.0 L280.1,1119.1 L284.1,1109.4 L288.1,1100.0 L292.1,1090.6 L296.1,1081.5 L300.1,1072.5 L304.1,1063.7 L308.1,1055.1 L312.1,1046.6 L316.1,1038.2 L320.1,1030.0 L324.1,1021.9 L328.1,1014.0 L332.1,1006.1 L336.1,998.4 L340.1,990.8 L344.1,983.3 L348.1,975.8 L352.1,968.5 L356.1,961.2 L360.1,954.1 L364.1,946.9 L368.1,939.9 L372.1,932.9 L376.1,926.0 L380.1,919.1 L384.1,912.3 L388.1,905.5 L392.1,898.8 L396.1,892.1 L400.1,885.5 L404.1,879.0 L408.1,872.5 L412.1,866.0 L416.1,859.6 L420.1,853.3 L424.1,847.0 L428.1,840.7 L432.1,834.5 L436.1,828.4 L440.1,822.3 L444.1,816.2 L448.1,810.2 L452.1,804.3 L456.1,798.4 L460.1,792.5 L464.1,786.7 L468.1,781.0 L472.1,775.3 L476.1,769.6 L480.1,764.0 L484.1,758.4 L488.1,752.9 L492.1,747.4 L496.1,742.0 L500.1,736.6 L504.1,731.2 L508.1,725.9 L512.1,720.7 L516.1,715.4 L520.1,710.3 L524.1,705.1 L528.1,700.0 L532.1,695.0 L536.1,690.0 L540.1,685.0 L544.1,680.1 L548.1,675.2 L552.1,670.4 L556.1,665.6 L560.1,660.8 L564.1,656.1 L568.1,651.4 L572.1,646.7 L576.1,642.1 L580.1,637.5 L584.1,633.0 L588.1,628.5 L592.1,624.0 L596.1,619.6 L600.1,615.2 L604.1,610.8 L608.1,606.5 L612.1,602.2 L616.1,598.0 L620.1,593.8 L624.1,589.6 L628.1,585.4 L632.1,581.3 L636.1,577.3 L640.1,573.2 L644.1,569.2 L648.1,565.2 L652.1,561.3 L656.1,557.3 L660.1,553.5 L664.1,549.6 L668.1,545.8 L672.1,542.0 L676.1,538.2 L680.1,534.5 L684.1,530.8 L688.1,527.1 L692.1,523.5 L696.1,519.9 L700.1,516.3 L704.1,512.7 L708.1,509.2 L712.1,505.7 L716.1,502.2 L720.1,498.8 L724.1,495.4 L728.1,492.0 L732.1,488.6 L736.1,485.3 L740.1,482.0 L744.1,478.7 L748.1,475.4 L752.1,472.2 L756.1,469.0 L760.1,465.8 L764.1,462.6 L768.1,459.5 L772.1,456.4 L776.1,453.3 L780.1,450.2 L784.1,447.2 L788.1,444.1 L792.1,441.1 L796.1,438.2 L800.1,435.2 L804.1,432.3 L808.1,429.3 L812.1,426.4 L816.1,423.6 L820.1,420.7 L824.1,417.9 L828.1,415.1 L832.1,412.3 L836.1,409.5 L840.1,406.8 L844.1,404.0 L848.1,401.3 L852.1,398.7 L856.1,396.0 L860.1,393.3 L864.1,390.7 L868.1,388.1 L872.1,385.5 L876.1,383.0 L880.1,380.4 L884.1,377.9 L888.1,375.4 L892.1,372.9 L896.1,370.4 L900.1,368.0 L904.1,365.6 L908.1,363.1 L912.1,360.7 L916.1,358.4 L920.1,356.0 L924.1,353.7 L928.1,351.4 L932.1,349.0 L936.1,346.8 L940.1,344.5 L944.1,342.2 L948.1,340.0 L952.1,337.8 L956.1,335.6 L960.1,333.4 L964.1,331.3 L968.1,329.1 L972.1,327.0 L976.1,324.9 L980.1,322.8 L984.1,320.7 L988.1,318.6 L992.1,316.6 L996.1,314.5 L1000.1,312.5 L1004.1,310.5 L1008.1,308.5 L1012.1,306.6 L1016.1,304.6 L1020.1,302.7 L1024.1,300.8 L1028.1,298.8 L1032.1,297.0 L1036.1,295.1 L1040.1,293.2 L1044.1,291.4 L1048.1,289.5 L1052.1,287.7 L1056.1,285.9 L1060.1,284.1 L1064.1,282.3 L1068.1,280.6 L1072.1,278.8 L1076.1,277.1 L1080.1,275.3 L1084.1,273.6 L1088.1,271.9 L1092.1,270.2 L1096.1,268.6 L1100.1,266.9 L1104.1,265.3 L1108.1,263.6 L1112.1,262.0 L1116.1,260.4 L1120.1,258.8 L1124.1,257.2 L1128.1,255.6 L1132.1,254.1 L1136.1,252.5 L1140.1,251.0 L1144.1,249.5 L1148.1,248.0 L1152.1,246.5 L1156.1,245.0 L1160.1,243.5 L1164.1,242.0 L1168.1,240.5 L1172.1,239.1 L1176.1,237.7 L1180.1,236.2 L1184.1,234.8 L1188.1,233.4 L1192.1,232.0 L1196.1,230.6 L1200.1,229.2 L1204.1,227.9 L1208.1,226.5 L1212.1,225.2 L1216.1,223.8 L1220.1,222.5 L1224.1,221.2 L1228.1,219.8 L1232.1,218.5 L1236.1,217.2 L1240.1,216.0 L1244.1,214.7 L1248.1,213.4 L1252.1,212.1 L1256.1,210.9 L1260.1,209.6 L1264.1,208.4 L1268.1,207.2 L1272.1,205.9 L1276.1,204.7 L1280.1,203.5 L1284.1,202.3 L1288.1,201.1 L1292.1,199.9 L1296.1,198.7 L1300.1,197.6 L1304.1,196.4 L1308.1,195.2 L1312.1,194.1 L1316.1,192.9 L1320.1,191.8 L1324.1,190.6 L1328.1,189.5 L1332.1,188.4 L1336.1,187.3 L1340.1,186.2 L1344.1,185.0 L1348.1,183.9 L1352.1,182.8 L1356.1,181.7 L1360.1,180.7 L1364.1,179.6 L1368.1,178.5 L1372.1,177.4 L1376.1,176.3 L1380.1,175.3 L1384.1,174.2 L1388.1,173.2 L1392.1,172.1 L1396.1,171.0 L1400.1,170.0 L1404.1,169.0 L1408.1,167.9 L1412.1,166.9 L1416.1,165.8 L1420.1,164.8 L1424.1,163.8 L1428.1,162.8 L1432.1,161.7 L1436.1,160.7 L1440.1,159.7 L1444.1,158.7 L1448.1,157.7 L1452.1,156.7 L1456.1,155.6 L1460.1,154.6 L1464.1,153.6 L1468.1,152.6 L1472.1,151.6 L1476.1,150.6 L1480.1,149.6 L1484.1,148.6 L1488.1,147.6 L1492.1,146.6 L1496.1,145.6 L1500.1,144.6 L1504.1,143.6 L1508.1,142.6 L1512.1,141.6 L1516.1,140.6 L1520.1,139.6 L1524.1,138.6 L1528.1,137.7 L1532.1,136.7 L1536.1,135.7 L1540.1,134.7 L1544.1,133.7 L1548.1,132.7 L1552.1,131.7 L1556.1,130.7 L1560.1,129.7 L1564.1,128.7 L1568.0,127.7" stroke="#4e4e4e" stroke-width="3.0"/>
</g>
<line x1="231" y1="1192.7" x2="252" y2="1192.7" stroke="#6a6a6a" stroke-width="2.4"/>
<line x1="231" y1="1132.1" x2="252" y2="1132.1" stroke="#6a6a6a" stroke-width="2.4"/>
<line x1="231" y1="1071.6" x2="252" y2="1071.6" stroke="#6a6a6a" stroke-width="2.4"/>
<line x1="231" y1="1011.0" x2="252" y2="1011.0" stroke="#6a6a6a" stroke-width="2.4"/>
<line x1="231" y1="949.3" x2="263" y2="949.3" stroke="#000" stroke-width="5"/>
<line x1="231" y1="890.0" x2="252" y2="890.0" stroke="#6a6a6a" stroke-width="2.4"/>
<line x1="231" y1="829.4" x2="252" y2="829.4" stroke="#6a6a6a" stroke-width="2.4"/>
<line x1="231" y1="768.9" x2="252" y2="768.9" stroke="#6a6a6a" stroke-width="2.4"/>
<line x1="231" y1="708.3" x2="252" y2="708.3" stroke="#6a6a6a" stroke-width="2.4"/>
<line x1="231" y1="646.6" x2="263" y2="646.6" stroke="#000" stroke-width="5"/>
<line x1="231" y1="587.3" x2="252" y2="587.3" stroke="#6a6a6a" stroke-width="2.4"/>
<line x1="231" y1="526.7" x2="252" y2="526.7" stroke="#6a6a6a" stroke-width="2.4"/>
<line x1="231" y1="466.2" x2="252" y2="466.2" stroke="#6a6a6a" stroke-width="2.4"/>
<line x1="231" y1="405.6" x2="252" y2="405.6" stroke="#6a6a6a" stroke-width="2.4"/>
<line x1="231" y1="343.9" x2="263" y2="343.9" stroke="#000" stroke-width="5"/>
<line x1="231" y1="284.6" x2="252" y2="284.6" stroke="#6a6a6a" stroke-width="2.4"/>
<line x1="231" y1="224.0" x2="252" y2="224.0" stroke="#6a6a6a" stroke-width="2.4"/>
<line x1="231" y1="163.5" x2="252" y2="163.5" stroke="#6a6a6a" stroke-width="2.4"/>
<line x1="231" y1="102.9" x2="252" y2="102.9" stroke="#6a6a6a" stroke-width="2.4"/>
<line x1="277.4" y1="1258" x2="277.4" y2="1241" stroke="#245a24" stroke-width="2.4"/>
<line x1="322.0" y1="1258" x2="322.0" y2="1241" stroke="#245a24" stroke-width="2.4"/>
<line x1="366.5" y1="1258" x2="366.5" y2="1241" stroke="#245a24" stroke-width="2.4"/>
<line x1="411.1" y1="1258" x2="411.1" y2="1241" stroke="#245a24" stroke-width="2.4"/>
<line x1="454.4" y1="1258" x2="454.4" y2="1228" stroke="#000" stroke-width="5.2"/>
<line x1="500.1" y1="1258" x2="500.1" y2="1241" stroke="#245a24" stroke-width="2.4"/>
<line x1="544.7" y1="1258" x2="544.7" y2="1241" stroke="#245a24" stroke-width="2.4"/>
<line x1="589.2" y1="1258" x2="589.2" y2="1241" stroke="#245a24" stroke-width="2.4"/>
<line x1="633.8" y1="1258" x2="633.8" y2="1241" stroke="#245a24" stroke-width="2.4"/>
<line x1="677.1" y1="1258" x2="677.1" y2="1228" stroke="#000" stroke-width="5.2"/>
<line x1="722.8" y1="1258" x2="722.8" y2="1241" stroke="#245a24" stroke-width="2.4"/>
<line x1="767.4" y1="1258" x2="767.4" y2="1241" stroke="#245a24" stroke-width="2.4"/>
<line x1="811.9" y1="1258" x2="811.9" y2="1241" stroke="#245a24" stroke-width="2.4"/>
<line x1="856.5" y1="1258" x2="856.5" y2="1241" stroke="#245a24" stroke-width="2.4"/>
<line x1="899.8" y1="1258" x2="899.8" y2="1228" stroke="#000" stroke-width="5.2"/>
<line x1="945.5" y1="1258" x2="945.5" y2="1241" stroke="#245a24" stroke-width="2.4"/>
<line x1="990.1" y1="1258" x2="990.1" y2="1241" stroke="#245a24" stroke-width="2.4"/>
<line x1="1034.6" y1="1258" x2="1034.6" y2="1241" stroke="#245a24" stroke-width="2.4"/>
<line x1="1079.2" y1="1258" x2="1079.2" y2="1241" stroke="#245a24" stroke-width="2.4"/>
<line x1="1122.5" y1="1258" x2="1122.5" y2="1228" stroke="#000" stroke-width="5.2"/>
<line x1="1168.2" y1="1258" x2="1168.2" y2="1241" stroke="#245a24" stroke-width="2.4"/>
<line x1="1212.8" y1="1258" x2="1212.8" y2="1241" stroke="#245a24" stroke-width="2.4"/>
<line x1="1257.3" y1="1258" x2="1257.3" y2="1241" stroke="#245a24" stroke-width="2.4"/>
<line x1="1301.9" y1="1258" x2="1301.9" y2="1241" stroke="#245a24" stroke-width="2.4"/>
<line x1="1345.2" y1="1258" x2="1345.2" y2="1228" stroke="#000" stroke-width="5.2"/>
<line x1="1390.9" y1="1258" x2="1390.9" y2="1241" stroke="#245a24" stroke-width="2.4"/>
<line x1="1435.5" y1="1258" x2="1435.5" y2="1241" stroke="#245a24" stroke-width="2.4"/>
<line x1="1480.0" y1="1258" x2="1480.0" y2="1241" stroke="#245a24" stroke-width="2.4"/>
<line x1="1524.6" y1="1258" x2="1524.6" y2="1241" stroke="#245a24" stroke-width="2.4"/>
<rect x="231.2" y="40.9" width="1337.8" height="1216.6" fill="none" stroke="#8a8a8a" stroke-width="8"/>
<rect x="231.2" y="40.9" width="1337.8" height="1216.6" fill="none" stroke="#000" stroke-width="5.6"/>
<g font-family="Liberation Sans, Arial, sans-serif" font-size="40.5" fill="#000" stroke="#000" stroke-width="1.6">
<text x="212.6" y="55.8" text-anchor="end">0.02</text>
<text x="212.6" y="358.5" text-anchor="end">0.0<tspan font-family="NanumGothic, Liberation Sans, sans-serif" font-weight="bold" font-size="37.6" stroke-width="0.9">1</tspan><tspan dx="-0.35">5</tspan></text>
<text x="212.6" y="661.2" text-anchor="end">0.0<tspan font-family="NanumGothic, Liberation Sans, sans-serif" font-weight="bold" font-size="37.6" stroke-width="0.9">1</tspan></text>
<text x="212.6" y="963.9" text-anchor="end">0.005</text>
<text x="212.6" y="1266.6" text-anchor="end">0</text>
<text x="454.0" y="1303.4" text-anchor="middle"><tspan font-family="NanumGothic, Liberation Sans, sans-serif" font-weight="bold" font-size="37.6" stroke-width="0.9">1</tspan><tspan dx="-0.35">0</tspan></text>
<text x="676.7" y="1303.4" text-anchor="middle">20</text>
<text x="899.4" y="1303.4" text-anchor="middle">30</text>
<text x="1122.1" y="1303.4" text-anchor="middle">40</text>
<text x="1344.8" y="1303.4" text-anchor="middle">50</text>
<text x="1567.5" y="1303.4" text-anchor="middle">60</text>
</g>
<g font-family="Liberation Serif, Times New Roman, serif" font-weight="bold" fill="#000">
<text x="900.5" y="1362" text-anchor="middle" font-size="56">Time (min)</text>
<text transform="translate(72.5,649) rotate(-90)" text-anchor="middle" font-size="56" letter-spacing="0.6">CF (mol/m<tspan font-size="46" dy="-10.5">^</tspan><tspan dy="10.5">3)</tspan></text>
</g>
<g fill="none">
<line x1="304" y1="130.5" x2="483.5" y2="130.5" stroke="#f4c4c8" stroke-width="8.5" stroke-dasharray="29.6 27.57"/>
<line x1="304" y1="130.5" x2="483.5" y2="130.5" stroke="#952a32" stroke-width="5" stroke-dasharray="29.6 27.57"/>
<line x1="304" y1="177.4" x2="483.5" y2="177.4" stroke="#c0efc0" stroke-width="8.5"/>
<line x1="304" y1="177.4" x2="483.5" y2="177.4" stroke="#58b058" stroke-width="5"/>
<line x1="304" y1="225.3" x2="483.5" y2="225.3" stroke="#c0c0f0" stroke-width="8.5" stroke-dasharray="29.6 27.57"/>
<line x1="304" y1="225.3" x2="483.5" y2="225.3" stroke="#4e4c9c" stroke-width="5" stroke-dasharray="29.6 27.57"/>
<line x1="304" y1="273.4" x2="483.5" y2="273.4" stroke="#cdcdcd" stroke-width="8.5"/>
<line x1="304" y1="273.4" x2="483.5" y2="273.4" stroke="#505050" stroke-width="5"/>
<line x1="304" y1="319.6" x2="483.5" y2="319.6" stroke="#f6e2bc" stroke-width="8.5" stroke-dasharray="29.6 27.57"/>
<line x1="304" y1="319.6" x2="483.5" y2="319.6" stroke="#c99a55" stroke-width="5" stroke-dasharray="29.6 27.57"/>
<line x1="304" y1="367.4" x2="483.5" y2="367.4" stroke="#f8c8f8" stroke-width="8.5"/>
<line x1="304" y1="367.4" x2="483.5" y2="367.4" stroke="#a64aa9" stroke-width="5"/>
<line x1="304" y1="416" x2="483.5" y2="416" stroke="#f4c4c8" stroke-width="8.5" stroke-dasharray="29.6 27.57"/>
<line x1="304" y1="416" x2="483.5" y2="416" stroke="#8a2a32" stroke-width="5" stroke-dasharray="29.6 27.57"/>
<line x1="304" y1="462.3" x2="483.5" y2="462.3" stroke="#c0efc0" stroke-width="8.5"/>
<line x1="304" y1="462.3" x2="483.5" y2="462.3" stroke="#58b058" stroke-width="5"/>
</g>
<g font-family="Liberation Serif, Times New Roman, serif" font-weight="bold" font-size="38.4" fill="#000">
<text transform="translate(514.2,142.8) scale(1,1.09)">600nm</text>
<text transform="translate(514.2,190.2) scale(1,1.09)">500nm</text>
<text transform="translate(514.2,239.0) scale(1,1.09)">400nm</text>
<text transform="translate(514.2,284.3) scale(1,1.09)">300nm</text>
<text transform="translate(514.2,333.4) scale(1,1.09)">200nm</text>
<text transform="translate(514.2,382.3) scale(1,1.09)">100nm</text>
<text transform="translate(514.2,427.0) scale(1,1.09)">50nm</text>
<text transform="translate(514.2,475.6) scale(1,1.09)">25nm</text>
</g>
</svg></div>
</body></html>
